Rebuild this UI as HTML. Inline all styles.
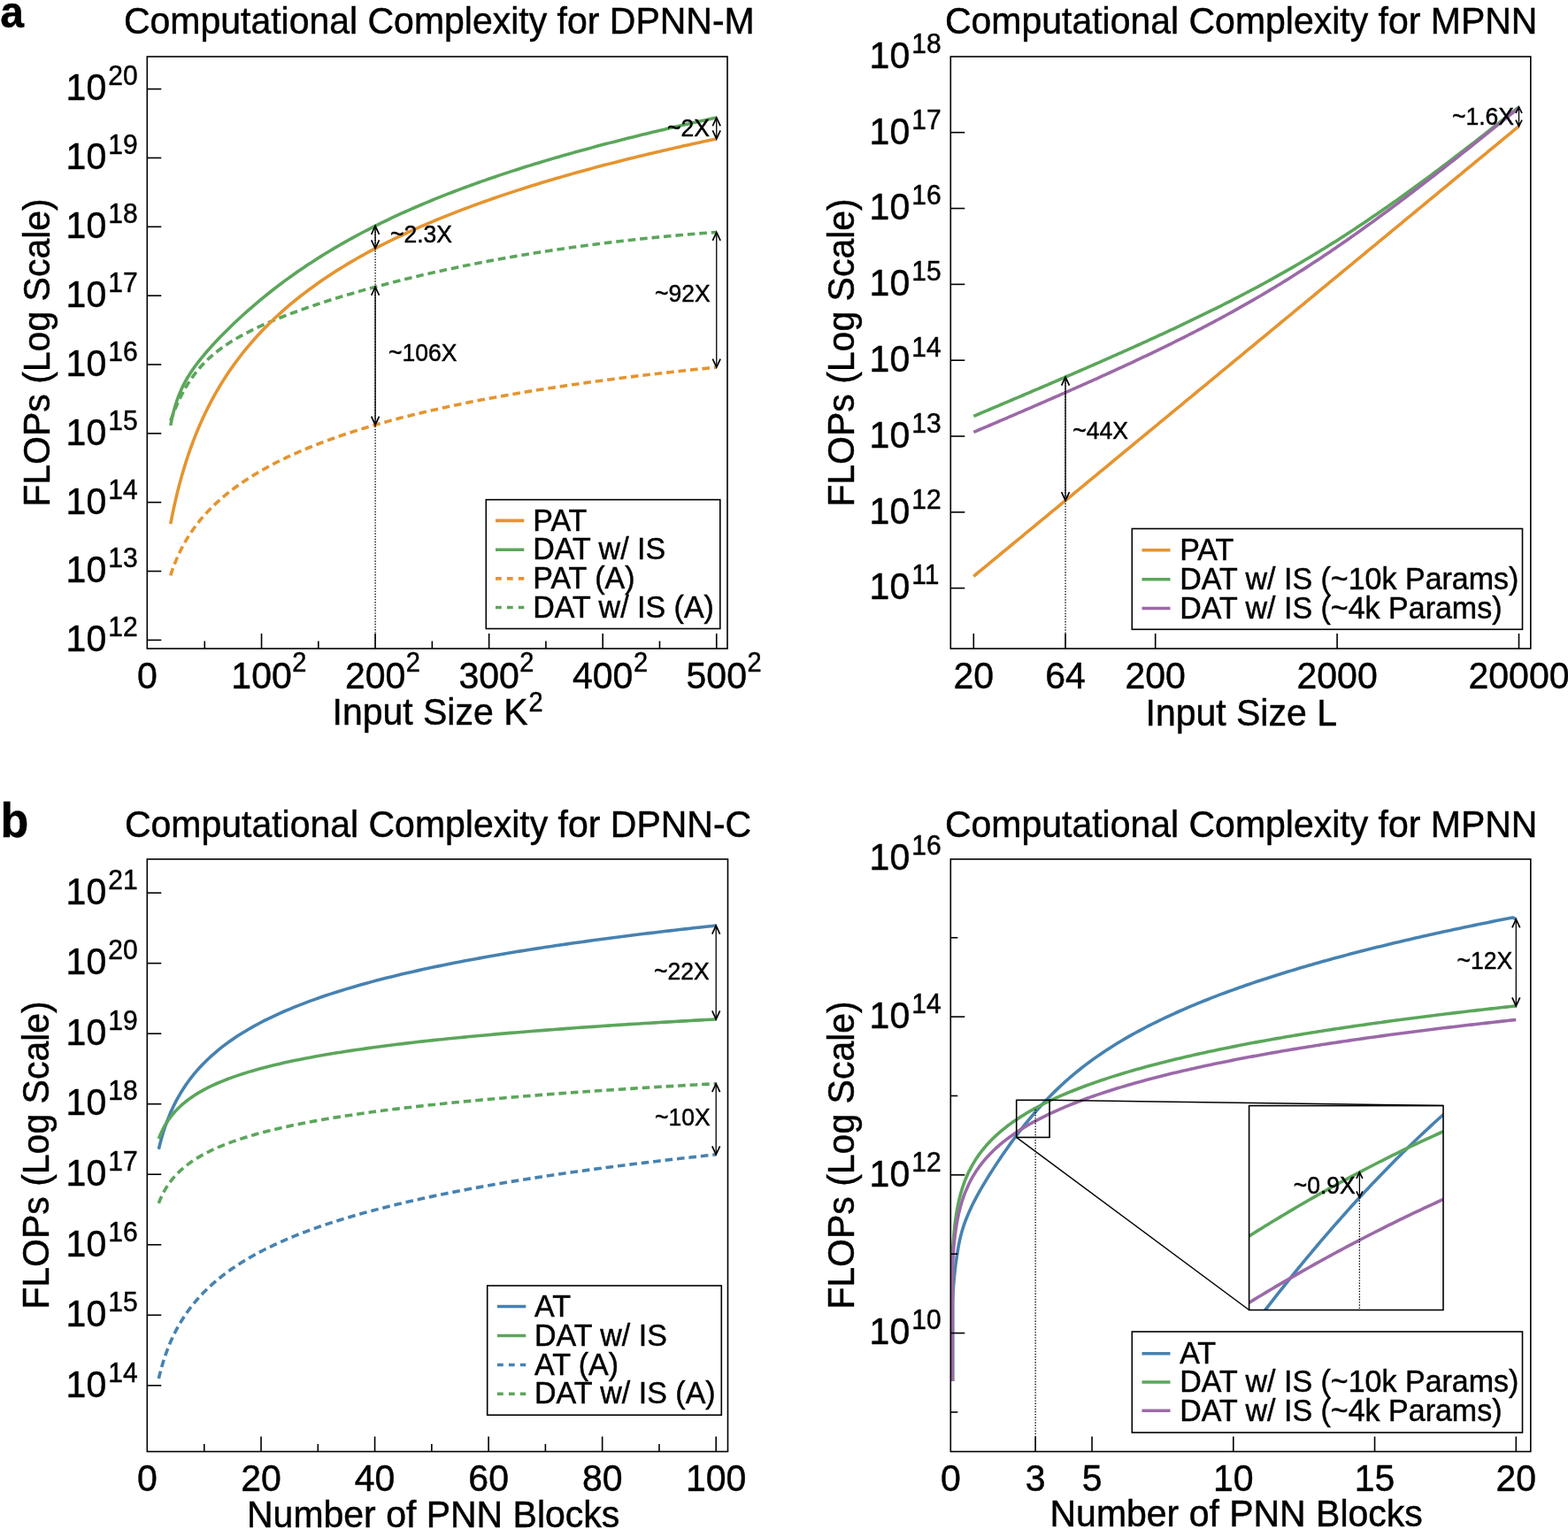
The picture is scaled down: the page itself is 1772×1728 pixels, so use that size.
<!DOCTYPE html>
<html><head><meta charset="utf-8"><title>Computational Complexity</title>
<style>html,body{margin:0;padding:0;background:#fff;}svg{display:block;}</style></head>
<body><svg width="1772" height="1728" viewBox="0 0 1772 1728" font-family='"Liberation Sans", Arial, Helvetica, sans-serif' fill="#000">
<style>text{stroke:#000;stroke-width:0.45px;}</style>
<rect width="1772" height="1728" fill="#fff"/>
<path d="M192.71 650.31 L194 646.42 L195.28 642.76 L196.57 639.3 L197.85 636.01 L199.14 632.88 L200.42 629.89 L201.71 627.04 L202.99 624.3 L204.28 621.68 L205.56 619.15 L206.85 616.72 L208.14 614.37 L209.42 612.11 L210.71 609.92 L211.99 607.79 L213.28 605.74 L214.56 603.74 L215.85 601.8 L217.13 599.91 L218.42 598.07 L219.71 596.29 L220.99 594.54 L222.28 592.84 L223.56 591.18 L224.85 589.56 L226.13 587.97 L227.42 586.42 L228.7 584.91 L229.99 583.42 L231.28 581.97 L232.56 580.54 L233.85 579.14 L235.13 577.77 L236.42 576.42 L237.7 575.1 L238.99 573.8 L240.27 572.53 L241.56 571.28 L242.84 570.04 L244.13 568.83 L245.42 567.64 L249.2 564.24 L252.99 560.98 L256.78 557.87 L260.57 554.87 L264.35 551.99 L268.14 549.22 L271.93 546.55 L275.72 543.96 L279.5 541.46 L283.29 539.04 L287.08 536.7 L290.87 534.42 L294.65 532.21 L298.44 530.06 L302.23 527.97 L306.02 525.93 L309.8 523.95 L313.59 522.02 L317.38 520.13 L321.17 518.29 L324.95 516.49 L328.74 514.74 L332.53 513.02 L336.32 511.34 L340.1 509.69 L343.89 508.08 L347.68 506.51 L351.46 504.96 L355.25 503.45 L359.04 501.97 L362.83 500.51 L366.61 499.08 L370.4 497.68 L374.19 496.3 L377.98 494.95 L381.76 493.62 L385.55 492.32 L389.34 491.04 L393.13 489.78 L396.91 488.54 L400.7 487.32 L404.49 486.12 L408.28 484.94 L412.06 483.78 L415.85 482.63 L419.64 481.51 L423.43 480.4 L427.21 479.31 L431 478.23 L434.79 477.17 L438.58 476.13 L442.36 475.1 L446.15 474.08 L449.94 473.08 L453.73 472.09 L457.51 471.12 L461.3 470.16 L465.09 469.21 L468.88 468.28 L472.66 467.36 L476.45 466.44 L480.24 465.55 L484.03 464.66 L487.81 463.78 L491.6 462.92 L495.39 462.07 L499.18 461.22 L502.96 460.39 L506.75 459.57 L510.54 458.75 L514.33 457.95 L518.11 457.16 L521.9 456.37 L525.69 455.6 L529.48 454.83 L533.26 454.07 L537.05 453.32 L540.84 452.58 L544.63 451.85 L548.41 451.13 L552.2 450.41 L555.99 449.7 L559.78 449 L563.56 448.31 L567.35 447.63 L571.14 446.95 L574.93 446.28 L578.71 445.62 L582.5 444.96 L586.29 444.31 L590.08 443.67 L593.86 443.03 L597.65 442.4 L601.44 441.78 L605.23 441.16 L609.01 440.55 L612.8 439.94 L616.59 439.35 L620.38 438.75 L624.16 438.17 L627.95 437.58 L631.74 437.01 L635.53 436.44 L639.31 435.87 L643.1 435.31 L646.89 434.76 L650.68 434.21 L654.46 433.67 L658.25 433.13 L662.04 432.6 L665.83 432.07 L669.61 431.54 L673.4 431.03 L677.19 430.51 L680.98 430 L684.76 429.5 L688.55 429 L692.34 428.5 L696.13 428.01 L699.91 427.52 L703.7 427.04 L707.49 426.56 L711.28 426.09 L715.06 425.62 L718.85 425.15 L722.64 424.69 L726.43 424.23 L730.21 423.78 L734 423.33 L737.79 422.88 L741.58 422.44 L745.36 422 L749.15 421.57 L752.94 421.13 L756.73 420.71 L760.51 420.28 L764.3 419.86 L768.09 419.44 L771.88 419.03 L775.66 418.62 L779.45 418.21 L783.24 417.81 L787.03 417.41 L790.81 417.01 L794.6 416.62 L798.39 416.23 L802.18 415.84 L805.96 415.45 L809.75 415.07" fill="none" stroke="#E5942F" stroke-width="3.6" stroke-dasharray="8.6 4.9" stroke-linejoin="round"/>
<path d="M192.71 475.49 L194 472.1 L195.28 468.78 L196.57 465.55 L197.85 462.42 L199.14 459.39 L200.42 456.46 L201.71 453.63 L202.99 450.91 L204.28 448.28 L205.56 445.75 L206.85 443.3 L208.14 440.95 L209.42 438.68 L210.71 436.49 L211.99 434.38 L213.28 432.34 L214.56 430.37 L215.85 428.47 L217.13 426.62 L218.42 424.84 L219.71 423.12 L220.99 421.45 L222.28 419.83 L223.56 418.26 L224.85 416.74 L226.13 415.26 L227.42 413.82 L228.7 412.43 L229.99 411.07 L231.28 409.75 L232.56 408.46 L233.85 407.21 L235.13 405.98 L236.42 404.79 L237.7 403.63 L238.99 402.49 L240.27 401.38 L241.56 400.3 L242.84 399.23 L244.13 398.2 L245.42 397.18 L249.2 394.3 L252.99 391.59 L256.78 389.01 L260.57 386.56 L264.35 384.23 L268.14 381.99 L271.93 379.84 L275.72 377.78 L279.5 375.79 L283.29 373.87 L287.08 372.01 L290.87 370.2 L294.65 368.44 L298.44 366.74 L302.23 365.07 L306.02 363.45 L309.8 361.86 L313.59 360.3 L317.38 358.78 L321.17 357.29 L324.95 355.83 L328.74 354.39 L332.53 352.98 L336.32 351.6 L340.1 350.23 L343.89 348.89 L347.68 347.57 L351.46 346.26 L355.25 344.98 L359.04 343.71 L362.83 342.46 L366.61 341.23 L370.4 340.02 L374.19 338.81 L377.98 337.63 L381.76 336.46 L385.55 335.3 L389.34 334.16 L393.13 333.03 L396.91 331.91 L400.7 330.81 L404.49 329.72 L408.28 328.64 L412.06 327.57 L415.85 326.51 L419.64 325.47 L423.43 324.44 L427.21 323.42 L431 322.41 L434.79 321.41 L438.58 320.42 L442.36 319.44 L446.15 318.47 L449.94 317.51 L453.73 316.56 L457.51 315.62 L461.3 314.69 L465.09 313.78 L468.88 312.87 L472.66 311.97 L476.45 311.08 L480.24 310.19 L484.03 309.32 L487.81 308.46 L491.6 307.6 L495.39 306.76 L499.18 305.92 L502.96 305.1 L506.75 304.28 L510.54 303.47 L514.33 302.66 L518.11 301.87 L521.9 301.09 L525.69 300.31 L529.48 299.54 L533.26 298.78 L537.05 298.03 L540.84 297.29 L544.63 296.55 L548.41 295.82 L552.2 295.1 L555.99 294.39 L559.78 293.69 L563.56 292.99 L567.35 292.3 L571.14 291.62 L574.93 290.95 L578.71 290.29 L582.5 289.63 L586.29 288.98 L590.08 288.33 L593.86 287.7 L597.65 287.07 L601.44 286.45 L605.23 285.84 L609.01 285.23 L612.8 284.63 L616.59 284.04 L620.38 283.45 L624.16 282.88 L627.95 282.3 L631.74 281.74 L635.53 281.18 L639.31 280.63 L643.1 280.09 L646.89 279.55 L650.68 279.02 L654.46 278.5 L658.25 277.98 L662.04 277.48 L665.83 276.97 L669.61 276.48 L673.4 275.99 L677.19 275.5 L680.98 275.03 L684.76 274.55 L688.55 274.09 L692.34 273.63 L696.13 273.18 L699.91 272.74 L703.7 272.3 L707.49 271.87 L711.28 271.44 L715.06 271.02 L718.85 270.6 L722.64 270.2 L726.43 269.79 L730.21 269.4 L734 269.01 L737.79 268.62 L741.58 268.25 L745.36 267.87 L749.15 267.51 L752.94 267.15 L756.73 266.79 L760.51 266.44 L764.3 266.1 L768.09 265.76 L771.88 265.43 L775.66 265.11 L779.45 264.78 L783.24 264.47 L787.03 264.16 L790.81 263.86 L794.6 263.56 L798.39 263.27 L802.18 262.98 L805.96 262.7 L809.75 262.42" fill="none" stroke="#5BA65B" stroke-width="3.6" stroke-dasharray="8.6 4.9" stroke-linejoin="round"/>
<path d="M192.71 592.18 L194 585.58 L195.28 579.29 L196.57 573.28 L197.85 567.52 L199.14 562 L200.42 556.7 L201.71 551.59 L202.99 546.67 L204.28 541.93 L205.56 537.34 L206.85 532.91 L208.14 528.62 L209.42 524.45 L210.71 520.42 L211.99 516.5 L213.28 512.69 L214.56 508.98 L215.85 505.38 L217.13 501.86 L218.42 498.44 L219.71 495.1 L220.99 491.84 L222.28 488.66 L223.56 485.55 L224.85 482.51 L226.13 479.54 L227.42 476.63 L228.7 473.78 L229.99 470.99 L231.28 468.26 L232.56 465.58 L233.85 462.96 L235.13 460.38 L236.42 457.85 L237.7 455.37 L238.99 452.93 L240.27 450.54 L241.56 448.19 L242.84 445.88 L244.13 443.6 L245.42 441.37 L249.2 434.99 L252.99 428.9 L256.78 423.07 L260.57 417.48 L264.35 412.11 L268.14 406.95 L271.93 401.98 L275.72 397.18 L279.5 392.55 L283.29 388.07 L287.08 383.74 L290.87 379.54 L294.65 375.47 L298.44 371.51 L302.23 367.67 L306.02 363.94 L309.8 360.3 L313.59 356.76 L317.38 353.31 L321.17 349.95 L324.95 346.66 L328.74 343.46 L332.53 340.33 L336.32 337.27 L340.1 334.28 L343.89 331.35 L347.68 328.48 L351.46 325.68 L355.25 322.93 L359.04 320.24 L362.83 317.6 L366.61 315 L370.4 312.46 L374.19 309.97 L377.98 307.52 L381.76 305.11 L385.55 302.75 L389.34 300.42 L393.13 298.14 L396.91 295.89 L400.7 293.68 L404.49 291.51 L408.28 289.37 L412.06 287.26 L415.85 285.19 L419.64 283.15 L423.43 281.13 L427.21 279.15 L431 277.2 L434.79 275.27 L438.58 273.37 L442.36 271.5 L446.15 269.65 L449.94 267.83 L453.73 266.03 L457.51 264.25 L461.3 262.5 L465.09 260.77 L468.88 259.07 L472.66 257.38 L476.45 255.71 L480.24 254.07 L484.03 252.44 L487.81 250.84 L491.6 249.25 L495.39 247.68 L499.18 246.13 L502.96 244.6 L506.75 243.08 L510.54 241.58 L514.33 240.1 L518.11 238.63 L521.9 237.18 L525.69 235.75 L529.48 234.32 L533.26 232.92 L537.05 231.53 L540.84 230.15 L544.63 228.79 L548.41 227.44 L552.2 226.1 L555.99 224.78 L559.78 223.47 L563.56 222.17 L567.35 220.88 L571.14 219.61 L574.93 218.35 L578.71 217.1 L582.5 215.86 L586.29 214.63 L590.08 213.42 L593.86 212.21 L597.65 211.02 L601.44 209.83 L605.23 208.66 L609.01 207.5 L612.8 206.34 L616.59 205.2 L620.38 204.06 L624.16 202.94 L627.95 201.82 L631.74 200.72 L635.53 199.62 L639.31 198.53 L643.1 197.45 L646.89 196.38 L650.68 195.31 L654.46 194.26 L658.25 193.21 L662.04 192.17 L665.83 191.14 L669.61 190.12 L673.4 189.11 L677.19 188.1 L680.98 187.1 L684.76 186.1 L688.55 185.12 L692.34 184.14 L696.13 183.17 L699.91 182.2 L703.7 181.25 L707.49 180.3 L711.28 179.35 L715.06 178.41 L718.85 177.48 L722.64 176.56 L726.43 175.64 L730.21 174.73 L734 173.82 L737.79 172.92 L741.58 172.02 L745.36 171.14 L749.15 170.25 L752.94 169.38 L756.73 168.5 L760.51 167.64 L764.3 166.78 L768.09 165.92 L771.88 165.07 L775.66 164.23 L779.45 163.39 L783.24 162.56 L787.03 161.73 L790.81 160.9 L794.6 160.09 L798.39 159.27 L802.18 158.46 L805.96 157.66 L809.75 156.86" fill="none" stroke="#E5942F" stroke-width="3.6" stroke-linejoin="round"/>
<path d="M192.71 480.89 L194 474.57 L195.28 468.95 L196.57 463.91 L197.85 459.36 L199.14 455.21 L200.42 451.42 L201.71 447.93 L202.99 444.68 L204.28 441.66 L205.56 438.82 L206.85 436.15 L208.14 433.62 L209.42 431.22 L210.71 428.92 L211.99 426.72 L213.28 424.6 L214.56 422.56 L215.85 420.59 L217.13 418.68 L218.42 416.82 L219.71 415 L220.99 413.24 L222.28 411.51 L223.56 409.81 L224.85 408.15 L226.13 406.52 L227.42 404.92 L228.7 403.34 L229.99 401.79 L231.28 400.26 L232.56 398.75 L233.85 397.25 L235.13 395.78 L236.42 394.32 L237.7 392.88 L238.99 391.45 L240.27 390.03 L241.56 388.63 L242.84 387.24 L244.13 385.87 L245.42 384.5 L249.2 380.55 L252.99 376.68 L256.78 372.9 L260.57 369.19 L264.35 365.55 L268.14 361.98 L271.93 358.47 L275.72 355.03 L279.5 351.64 L283.29 348.32 L287.08 345.04 L290.87 341.83 L294.65 338.67 L298.44 335.56 L302.23 332.5 L306.02 329.49 L309.8 326.53 L313.59 323.62 L317.38 320.75 L321.17 317.93 L324.95 315.15 L328.74 312.42 L332.53 309.73 L336.32 307.08 L340.1 304.47 L343.89 301.9 L347.68 299.37 L351.46 296.88 L355.25 294.42 L359.04 292 L362.83 289.62 L366.61 287.27 L370.4 284.95 L374.19 282.67 L377.98 280.42 L381.76 278.2 L385.55 276.01 L389.34 273.85 L393.13 271.72 L396.91 269.62 L400.7 267.55 L404.49 265.51 L408.28 263.49 L412.06 261.5 L415.85 259.54 L419.64 257.6 L423.43 255.69 L427.21 253.8 L431 251.93 L434.79 250.09 L438.58 248.27 L442.36 246.48 L446.15 244.7 L449.94 242.95 L453.73 241.21 L457.51 239.5 L461.3 237.81 L465.09 236.14 L468.88 234.48 L472.66 232.85 L476.45 231.23 L480.24 229.63 L484.03 228.05 L487.81 226.49 L491.6 224.95 L495.39 223.42 L499.18 221.9 L502.96 220.41 L506.75 218.93 L510.54 217.46 L514.33 216.01 L518.11 214.57 L521.9 213.15 L525.69 211.75 L529.48 210.35 L533.26 208.97 L537.05 207.61 L540.84 206.26 L544.63 204.92 L548.41 203.59 L552.2 202.27 L555.99 200.97 L559.78 199.68 L563.56 198.4 L567.35 197.14 L571.14 195.88 L574.93 194.64 L578.71 193.4 L582.5 192.18 L586.29 190.97 L590.08 189.77 L593.86 188.57 L597.65 187.39 L601.44 186.22 L605.23 185.06 L609.01 183.91 L612.8 182.76 L616.59 181.63 L620.38 180.5 L624.16 179.39 L627.95 178.28 L631.74 177.18 L635.53 176.09 L639.31 175.01 L643.1 173.93 L646.89 172.86 L650.68 171.81 L654.46 170.75 L658.25 169.71 L662.04 168.67 L665.83 167.65 L669.61 166.62 L673.4 165.61 L677.19 164.6 L680.98 163.6 L684.76 162.61 L688.55 161.62 L692.34 160.64 L696.13 159.66 L699.91 158.69 L703.7 157.73 L707.49 156.78 L711.28 155.83 L715.06 154.88 L718.85 153.94 L722.64 153.01 L726.43 152.08 L730.21 151.16 L734 150.24 L737.79 149.33 L741.58 148.43 L745.36 147.53 L749.15 146.63 L752.94 145.74 L756.73 144.85 L760.51 143.97 L764.3 143.1 L768.09 142.23 L771.88 141.36 L775.66 140.5 L779.45 139.64 L783.24 138.79 L787.03 137.94 L790.81 137.09 L794.6 136.25 L798.39 135.42 L802.18 134.58 L805.96 133.76 L809.75 132.93" fill="none" stroke="#5BA65B" stroke-width="3.6" stroke-linejoin="round"/>
<rect x="166.3" y="64" width="655.7" height="669" fill="none" stroke="#000" stroke-width="1.6"/>
<line x1="166.3" y1="100.6" x2="182.3" y2="100.6" stroke="#000" stroke-width="1.6"/>
<text transform="matrix(1 0 0 1.05 120.2 113.4)" font-size="41" text-anchor="end">10</text>
<text transform="matrix(1 0 0 1.05 122.2 96.4)" font-size="30">20</text>
<line x1="166.3" y1="178.45" x2="182.3" y2="178.45" stroke="#000" stroke-width="1.6"/>
<text transform="matrix(1 0 0 1.05 120.2 191.25)" font-size="41" text-anchor="end">10</text>
<text transform="matrix(1 0 0 1.05 122.2 174.25)" font-size="30">19</text>
<line x1="166.3" y1="256.3" x2="182.3" y2="256.3" stroke="#000" stroke-width="1.6"/>
<text transform="matrix(1 0 0 1.05 120.2 269.1)" font-size="41" text-anchor="end">10</text>
<text transform="matrix(1 0 0 1.05 122.2 252.1)" font-size="30">18</text>
<line x1="166.3" y1="334.15" x2="182.3" y2="334.15" stroke="#000" stroke-width="1.6"/>
<text transform="matrix(1 0 0 1.05 120.2 346.95)" font-size="41" text-anchor="end">10</text>
<text transform="matrix(1 0 0 1.05 122.2 329.95)" font-size="30">17</text>
<line x1="166.3" y1="412" x2="182.3" y2="412" stroke="#000" stroke-width="1.6"/>
<text transform="matrix(1 0 0 1.05 120.2 424.8)" font-size="41" text-anchor="end">10</text>
<text transform="matrix(1 0 0 1.05 122.2 407.8)" font-size="30">16</text>
<line x1="166.3" y1="489.85" x2="182.3" y2="489.85" stroke="#000" stroke-width="1.6"/>
<text transform="matrix(1 0 0 1.05 120.2 502.65)" font-size="41" text-anchor="end">10</text>
<text transform="matrix(1 0 0 1.05 122.2 485.65)" font-size="30">15</text>
<line x1="166.3" y1="567.7" x2="182.3" y2="567.7" stroke="#000" stroke-width="1.6"/>
<text transform="matrix(1 0 0 1.05 120.2 580.5)" font-size="41" text-anchor="end">10</text>
<text transform="matrix(1 0 0 1.05 122.2 563.5)" font-size="30">14</text>
<line x1="166.3" y1="645.55" x2="182.3" y2="645.55" stroke="#000" stroke-width="1.6"/>
<text transform="matrix(1 0 0 1.05 120.2 658.35)" font-size="41" text-anchor="end">10</text>
<text transform="matrix(1 0 0 1.05 122.2 641.35)" font-size="30">13</text>
<line x1="166.3" y1="723.4" x2="182.3" y2="723.4" stroke="#000" stroke-width="1.6"/>
<text transform="matrix(1 0 0 1.05 120.2 736.2)" font-size="41" text-anchor="end">10</text>
<text transform="matrix(1 0 0 1.05 122.2 719.2)" font-size="30">12</text>
<line x1="231.28" y1="733" x2="231.28" y2="724.5" stroke="#000" stroke-width="1.6"/>
<line x1="359.83" y1="733" x2="359.83" y2="724.5" stroke="#000" stroke-width="1.6"/>
<line x1="488.38" y1="733" x2="488.38" y2="724.5" stroke="#000" stroke-width="1.6"/>
<line x1="616.92" y1="733" x2="616.92" y2="724.5" stroke="#000" stroke-width="1.6"/>
<line x1="745.48" y1="733" x2="745.48" y2="724.5" stroke="#000" stroke-width="1.6"/>
<line x1="295.55" y1="733" x2="295.55" y2="716" stroke="#000" stroke-width="1.6"/>
<line x1="424.1" y1="733" x2="424.1" y2="716" stroke="#000" stroke-width="1.6"/>
<line x1="552.65" y1="733" x2="552.65" y2="716" stroke="#000" stroke-width="1.6"/>
<line x1="681.2" y1="733" x2="681.2" y2="716" stroke="#000" stroke-width="1.6"/>
<line x1="809.75" y1="733" x2="809.75" y2="716" stroke="#000" stroke-width="1.6"/>
<text transform="matrix(1 0 0 1.05 166.3 778.4)" font-size="41" text-anchor="middle">0</text>
<text transform="matrix(1 0 0 1.05 295.55 778.4)" font-size="41" text-anchor="middle">100</text>
<text transform="matrix(1 0 0 1.05 330.25 759.4)" font-size="29">2</text>
<text transform="matrix(1 0 0 1.05 424.1 778.4)" font-size="41" text-anchor="middle">200</text>
<text transform="matrix(1 0 0 1.05 458.8 759.4)" font-size="29">2</text>
<text transform="matrix(1 0 0 1.05 552.65 778.4)" font-size="41" text-anchor="middle">300</text>
<text transform="matrix(1 0 0 1.05 587.35 759.4)" font-size="29">2</text>
<text transform="matrix(1 0 0 1.05 681.2 778.4)" font-size="41" text-anchor="middle">400</text>
<text transform="matrix(1 0 0 1.05 715.9 759.4)" font-size="29">2</text>
<text transform="matrix(1 0 0 1.05 809.75 778.4)" font-size="41" text-anchor="middle">500</text>
<text transform="matrix(1 0 0 1.05 844.45 759.4)" font-size="29">2</text>
<line x1="424.1" y1="255.35" x2="424.1" y2="733" stroke="#000" stroke-width="1.3" stroke-dasharray="1.4 1.7"/>
<line x1="424.1" y1="255.35" x2="424.1" y2="280.78" stroke="#000" stroke-width="1.3"/>
<path d="M419.7 264.85 L424.1 255.35 L428.5 264.85" fill="none" stroke="#000" stroke-width="1.7" stroke-linejoin="miter"/>
<path d="M419.7 271.28 L424.1 280.78 L428.5 271.28" fill="none" stroke="#000" stroke-width="1.7" stroke-linejoin="miter"/>
<line x1="424.1" y1="324.26" x2="424.1" y2="480.2" stroke="#000" stroke-width="1.3"/>
<path d="M419.7 333.76 L424.1 324.26 L428.5 333.76" fill="none" stroke="#000" stroke-width="1.7" stroke-linejoin="miter"/>
<path d="M419.7 470.7 L424.1 480.2 L428.5 470.7" fill="none" stroke="#000" stroke-width="1.7" stroke-linejoin="miter"/>
<line x1="809.75" y1="132.93" x2="809.75" y2="156.86" stroke="#000" stroke-width="1.3"/>
<path d="M805.35 142.43 L809.75 132.93 L814.15 142.43" fill="none" stroke="#000" stroke-width="1.7" stroke-linejoin="miter"/>
<path d="M805.35 147.36 L809.75 156.86 L814.15 147.36" fill="none" stroke="#000" stroke-width="1.7" stroke-linejoin="miter"/>
<line x1="809.75" y1="262.42" x2="809.75" y2="415.07" stroke="#000" stroke-width="1.3"/>
<path d="M805.35 271.92 L809.75 262.42 L814.15 271.92" fill="none" stroke="#000" stroke-width="1.7" stroke-linejoin="miter"/>
<path d="M805.35 405.57 L809.75 415.07 L814.15 405.57" fill="none" stroke="#000" stroke-width="1.7" stroke-linejoin="miter"/>
<text transform="matrix(1 0 0 1.05 441 273.5)" font-size="26.5">~2.3X</text>
<text transform="matrix(1 0 0 1.05 439 408.2)" font-size="26.5">~106X</text>
<text transform="matrix(1 0 0 1.05 754 153.8)" font-size="26.5">~2X</text>
<text transform="matrix(1 0 0 1.05 740 341.3)" font-size="26.5">~92X</text>
<rect x="549.3" y="564.7" width="264.5" height="145.8" fill="none" stroke="#000" stroke-width="1.6"/>
<path d="M560 588.4 L592.3 588.4" fill="none" stroke="#E5942F" stroke-width="3.6" stroke-linejoin="round"/>
<text transform="matrix(1 0 0 1.05 602.3 599.6)" font-size="34">PAT</text>
<path d="M560 621.2 L592.3 621.2" fill="none" stroke="#5BA65B" stroke-width="3.6" stroke-linejoin="round"/>
<text transform="matrix(1 0 0 1.05 602.3 632.4)" font-size="34">DAT w/ IS</text>
<path d="M560 653.9 L592.3 653.9" fill="none" stroke="#E5942F" stroke-width="3.6" stroke-dasharray="6.8 6.1" stroke-linejoin="round"/>
<text transform="matrix(1 0 0 1.05 602.3 665.1)" font-size="34">PAT (A)</text>
<path d="M560 686.5 L592.3 686.5" fill="none" stroke="#5BA65B" stroke-width="3.6" stroke-dasharray="6.8 6.1" stroke-linejoin="round"/>
<text transform="matrix(1 0 0 1.05 602.3 697.7)" font-size="34">DAT w/ IS (A)</text>
<text transform="matrix(1 0 0 1.05 139.9 38.1)" font-size="41">Computational Complexity for DPNN-M</text>
<text transform="matrix(1 0 0 1.05 375.5 819)" font-size="41">Input Size K</text>
<text transform="matrix(1 0 0 1.05 597.58 803.5)" font-size="29">2</text>
<path d="M1100.3 651.3 L1103.4 648.74 L1106.49 646.19 L1109.59 643.63 L1112.69 641.07 L1115.78 638.52 L1118.88 635.96 L1121.98 633.41 L1125.07 630.85 L1128.17 628.29 L1131.26 625.74 L1134.36 623.18 L1137.46 620.62 L1140.55 618.07 L1143.65 615.51 L1146.75 612.96 L1149.84 610.4 L1152.94 607.84 L1156.04 605.29 L1159.13 602.73 L1162.23 600.17 L1165.33 597.62 L1168.42 595.06 L1171.52 592.51 L1174.62 589.95 L1177.71 587.39 L1180.81 584.84 L1183.91 582.28 L1187 579.72 L1190.1 577.17 L1193.19 574.61 L1196.29 572.06 L1199.39 569.5 L1202.48 566.94 L1205.58 564.39 L1208.68 561.83 L1211.77 559.27 L1214.87 556.72 L1217.97 554.16 L1221.06 551.61 L1224.16 549.05 L1227.26 546.49 L1230.35 543.94 L1233.45 541.38 L1236.55 538.82 L1239.64 536.27 L1242.74 533.71 L1245.83 531.15 L1248.93 528.6 L1252.03 526.04 L1255.12 523.49 L1258.22 520.93 L1261.32 518.37 L1264.41 515.82 L1267.51 513.26 L1270.61 510.7 L1273.7 508.15 L1276.8 505.59 L1279.9 503.04 L1282.99 500.48 L1286.09 497.92 L1289.19 495.37 L1292.28 492.81 L1295.38 490.25 L1298.47 487.7 L1301.57 485.14 L1304.67 482.59 L1307.76 480.03 L1310.86 477.47 L1313.96 474.92 L1317.05 472.36 L1320.15 469.8 L1323.25 467.25 L1326.34 464.69 L1329.44 462.14 L1332.54 459.58 L1335.63 457.02 L1338.73 454.47 L1341.83 451.91 L1344.92 449.35 L1348.02 446.8 L1351.12 444.24 L1354.21 441.68 L1357.31 439.13 L1360.4 436.57 L1363.5 434.02 L1366.6 431.46 L1369.69 428.9 L1372.79 426.35 L1375.89 423.79 L1378.98 421.23 L1382.08 418.68 L1385.18 416.12 L1388.27 413.57 L1391.37 411.01 L1394.47 408.45 L1397.56 405.9 L1400.66 403.34 L1403.76 400.78 L1406.85 398.23 L1409.95 395.67 L1413.04 393.12 L1416.14 390.56 L1419.24 388 L1422.33 385.45 L1425.43 382.89 L1428.53 380.33 L1431.62 377.78 L1434.72 375.22 L1437.82 372.67 L1440.91 370.11 L1444.01 367.55 L1447.11 365 L1450.2 362.44 L1453.3 359.88 L1456.4 357.33 L1459.49 354.77 L1462.59 352.22 L1465.68 349.66 L1468.78 347.1 L1471.88 344.55 L1474.97 341.99 L1478.07 339.43 L1481.17 336.88 L1484.26 334.32 L1487.36 331.76 L1490.46 329.21 L1493.55 326.65 L1496.65 324.1 L1499.75 321.54 L1502.84 318.98 L1505.94 316.43 L1509.04 313.87 L1512.13 311.31 L1515.23 308.76 L1518.33 306.2 L1521.42 303.65 L1524.52 301.09 L1527.61 298.53 L1530.71 295.98 L1533.81 293.42 L1536.9 290.86 L1540 288.31 L1543.1 285.75 L1546.19 283.2 L1549.29 280.64 L1552.39 278.08 L1555.48 275.53 L1558.58 272.97 L1561.68 270.41 L1564.77 267.86 L1567.87 265.3 L1570.97 262.75 L1574.06 260.19 L1577.16 257.63 L1580.25 255.08 L1583.35 252.52 L1586.45 249.96 L1589.54 247.41 L1592.64 244.85 L1595.74 242.29 L1598.83 239.74 L1601.93 237.18 L1605.03 234.63 L1608.12 232.07 L1611.22 229.51 L1614.32 226.96 L1617.41 224.4 L1620.51 221.84 L1623.61 219.29 L1626.7 216.73 L1629.8 214.18 L1632.89 211.62 L1635.99 209.06 L1639.09 206.51 L1642.18 203.95 L1645.28 201.39 L1648.38 198.84 L1651.47 196.28 L1654.57 193.73 L1657.67 191.17 L1660.76 188.61 L1663.86 186.06 L1666.96 183.5 L1670.05 180.94 L1673.15 178.39 L1676.25 175.83 L1679.34 173.28 L1682.44 170.72 L1685.54 168.16 L1688.63 165.61 L1691.73 163.05 L1694.82 160.49 L1697.92 157.94 L1701.02 155.38 L1704.11 152.83 L1707.21 150.27 L1710.31 147.71 L1713.4 145.16 L1716.5 142.6" fill="none" stroke="#E5942F" stroke-width="3.6" stroke-linejoin="round"/>
<path d="M1100.3 470.37 L1103.4 469.06 L1106.49 467.75 L1109.59 466.44 L1112.69 465.13 L1115.78 463.82 L1118.88 462.51 L1121.98 461.2 L1125.07 459.89 L1128.17 458.57 L1131.26 457.26 L1134.36 455.95 L1137.46 454.63 L1140.55 453.32 L1143.65 452 L1146.75 450.68 L1149.84 449.37 L1152.94 448.05 L1156.04 446.73 L1159.13 445.41 L1162.23 444.09 L1165.33 442.76 L1168.42 441.44 L1171.52 440.12 L1174.62 438.79 L1177.71 437.47 L1180.81 436.14 L1183.91 434.81 L1187 433.48 L1190.1 432.15 L1193.19 430.82 L1196.29 429.48 L1199.39 428.15 L1202.48 426.81 L1205.58 425.48 L1208.68 424.14 L1211.77 422.8 L1214.87 421.45 L1217.97 420.11 L1221.06 418.76 L1224.16 417.42 L1227.26 416.07 L1230.35 414.72 L1233.45 413.36 L1236.55 412.01 L1239.64 410.65 L1242.74 409.29 L1245.83 407.93 L1248.93 406.57 L1252.03 405.2 L1255.12 403.83 L1258.22 402.46 L1261.32 401.09 L1264.41 399.72 L1267.51 398.34 L1270.61 396.96 L1273.7 395.57 L1276.8 394.18 L1279.9 392.79 L1282.99 391.4 L1286.09 390 L1289.19 388.6 L1292.28 387.2 L1295.38 385.79 L1298.47 384.38 L1301.57 382.97 L1304.67 381.55 L1307.76 380.13 L1310.86 378.7 L1313.96 377.27 L1317.05 375.84 L1320.15 374.4 L1323.25 372.96 L1326.34 371.51 L1329.44 370.05 L1332.54 368.6 L1335.63 367.13 L1338.73 365.67 L1341.83 364.19 L1344.92 362.71 L1348.02 361.23 L1351.12 359.74 L1354.21 358.24 L1357.31 356.74 L1360.4 355.23 L1363.5 353.72 L1366.6 352.2 L1369.69 350.67 L1372.79 349.14 L1375.89 347.6 L1378.98 346.05 L1382.08 344.49 L1385.18 342.93 L1388.27 341.36 L1391.37 339.78 L1394.47 338.2 L1397.56 336.61 L1400.66 335.01 L1403.76 333.4 L1406.85 331.78 L1409.95 330.15 L1413.04 328.52 L1416.14 326.87 L1419.24 325.22 L1422.33 323.56 L1425.43 321.89 L1428.53 320.21 L1431.62 318.52 L1434.72 316.82 L1437.82 315.11 L1440.91 313.39 L1444.01 311.66 L1447.11 309.93 L1450.2 308.18 L1453.3 306.42 L1456.4 304.65 L1459.49 302.87 L1462.59 301.08 L1465.68 299.28 L1468.78 297.46 L1471.88 295.64 L1474.97 293.81 L1478.07 291.96 L1481.17 290.11 L1484.26 288.24 L1487.36 286.36 L1490.46 284.47 L1493.55 282.57 L1496.65 280.66 L1499.75 278.74 L1502.84 276.8 L1505.94 274.86 L1509.04 272.9 L1512.13 270.94 L1515.23 268.96 L1518.33 266.97 L1521.42 264.97 L1524.52 262.95 L1527.61 260.93 L1530.71 258.9 L1533.81 256.85 L1536.9 254.79 L1540 252.73 L1543.1 250.65 L1546.19 248.56 L1549.29 246.46 L1552.39 244.35 L1555.48 242.23 L1558.58 240.1 L1561.68 237.96 L1564.77 235.81 L1567.87 233.65 L1570.97 231.48 L1574.06 229.3 L1577.16 227.11 L1580.25 224.91 L1583.35 222.7 L1586.45 220.48 L1589.54 218.26 L1592.64 216.02 L1595.74 213.78 L1598.83 211.52 L1601.93 209.26 L1605.03 206.99 L1608.12 204.71 L1611.22 202.42 L1614.32 200.13 L1617.41 197.83 L1620.51 195.52 L1623.61 193.2 L1626.7 190.87 L1629.8 188.54 L1632.89 186.2 L1635.99 183.86 L1639.09 181.5 L1642.18 179.14 L1645.28 176.78 L1648.38 174.41 L1651.47 172.03 L1654.57 169.64 L1657.67 167.25 L1660.76 164.86 L1663.86 162.46 L1666.96 160.05 L1670.05 157.64 L1673.15 155.22 L1676.25 152.8 L1679.34 150.37 L1682.44 147.94 L1685.54 145.5 L1688.63 143.06 L1691.73 140.61 L1694.82 138.16 L1697.92 135.71 L1701.02 133.25 L1704.11 130.78 L1707.21 128.32 L1710.31 125.85 L1713.4 123.37 L1716.5 120.9" fill="none" stroke="#5BA65B" stroke-width="3.6" stroke-linejoin="round"/>
<path d="M1100.3 488.4 L1103.4 487.09 L1106.49 485.77 L1109.59 484.45 L1112.69 483.13 L1115.78 481.81 L1118.88 480.49 L1121.98 479.17 L1125.07 477.84 L1128.17 476.52 L1131.26 475.19 L1134.36 473.87 L1137.46 472.54 L1140.55 471.21 L1143.65 469.88 L1146.75 468.55 L1149.84 467.22 L1152.94 465.88 L1156.04 464.55 L1159.13 463.21 L1162.23 461.87 L1165.33 460.53 L1168.42 459.19 L1171.52 457.85 L1174.62 456.5 L1177.71 455.16 L1180.81 453.81 L1183.91 452.46 L1187 451.11 L1190.1 449.75 L1193.19 448.4 L1196.29 447.04 L1199.39 445.68 L1202.48 444.32 L1205.58 442.96 L1208.68 441.59 L1211.77 440.22 L1214.87 438.85 L1217.97 437.47 L1221.06 436.1 L1224.16 434.72 L1227.26 433.34 L1230.35 431.95 L1233.45 430.56 L1236.55 429.17 L1239.64 427.78 L1242.74 426.38 L1245.83 424.98 L1248.93 423.57 L1252.03 422.16 L1255.12 420.75 L1258.22 419.34 L1261.32 417.92 L1264.41 416.49 L1267.51 415.07 L1270.61 413.63 L1273.7 412.2 L1276.8 410.76 L1279.9 409.31 L1282.99 407.86 L1286.09 406.41 L1289.19 404.95 L1292.28 403.48 L1295.38 402.01 L1298.47 400.54 L1301.57 399.06 L1304.67 397.57 L1307.76 396.08 L1310.86 394.58 L1313.96 393.08 L1317.05 391.57 L1320.15 390.05 L1323.25 388.53 L1326.34 387 L1329.44 385.46 L1332.54 383.92 L1335.63 382.37 L1338.73 380.81 L1341.83 379.25 L1344.92 377.67 L1348.02 376.09 L1351.12 374.51 L1354.21 372.91 L1357.31 371.31 L1360.4 369.69 L1363.5 368.07 L1366.6 366.44 L1369.69 364.81 L1372.79 363.16 L1375.89 361.5 L1378.98 359.84 L1382.08 358.16 L1385.18 356.48 L1388.27 354.79 L1391.37 353.08 L1394.47 351.37 L1397.56 349.65 L1400.66 347.92 L1403.76 346.18 L1406.85 344.42 L1409.95 342.66 L1413.04 340.89 L1416.14 339.1 L1419.24 337.31 L1422.33 335.5 L1425.43 333.69 L1428.53 331.86 L1431.62 330.02 L1434.72 328.17 L1437.82 326.31 L1440.91 324.44 L1444.01 322.56 L1447.11 320.67 L1450.2 318.76 L1453.3 316.85 L1456.4 314.92 L1459.49 312.98 L1462.59 311.03 L1465.68 309.07 L1468.78 307.1 L1471.88 305.12 L1474.97 303.12 L1478.07 301.12 L1481.17 299.1 L1484.26 297.08 L1487.36 295.04 L1490.46 292.99 L1493.55 290.93 L1496.65 288.86 L1499.75 286.78 L1502.84 284.68 L1505.94 282.58 L1509.04 280.47 L1512.13 278.34 L1515.23 276.21 L1518.33 274.07 L1521.42 271.91 L1524.52 269.75 L1527.61 267.57 L1530.71 265.39 L1533.81 263.2 L1536.9 260.99 L1540 258.78 L1543.1 256.56 L1546.19 254.33 L1549.29 252.09 L1552.39 249.84 L1555.48 247.59 L1558.58 245.32 L1561.68 243.05 L1564.77 240.77 L1567.87 238.48 L1570.97 236.18 L1574.06 233.87 L1577.16 231.56 L1580.25 229.24 L1583.35 226.91 L1586.45 224.58 L1589.54 222.24 L1592.64 219.89 L1595.74 217.53 L1598.83 215.17 L1601.93 212.8 L1605.03 210.43 L1608.12 208.05 L1611.22 205.66 L1614.32 203.27 L1617.41 200.87 L1620.51 198.47 L1623.61 196.06 L1626.7 193.64 L1629.8 191.22 L1632.89 188.8 L1635.99 186.37 L1639.09 183.94 L1642.18 181.5 L1645.28 179.05 L1648.38 176.61 L1651.47 174.15 L1654.57 171.7 L1657.67 169.24 L1660.76 166.77 L1663.86 164.31 L1666.96 161.83 L1670.05 159.36 L1673.15 156.88 L1676.25 154.4 L1679.34 151.91 L1682.44 149.42 L1685.54 146.93 L1688.63 144.44 L1691.73 141.94 L1694.82 139.44 L1697.92 136.93 L1701.02 134.43 L1704.11 131.92 L1707.21 129.41 L1710.31 126.89 L1713.4 124.38 L1716.5 121.86" fill="none" stroke="#9B69A8" stroke-width="3.6" stroke-linejoin="round"/>
<rect x="1074.3" y="64" width="655.5" height="669" fill="none" stroke="#000" stroke-width="1.6"/>
<line x1="1074.3" y1="149.7" x2="1090.3" y2="149.7" stroke="#000" stroke-width="1.6"/>
<text transform="matrix(1 0 0 1.05 1028.2 162.5)" font-size="41" text-anchor="end">10</text>
<text transform="matrix(1 0 0 1.05 1030.2 145.5)" font-size="30">17</text>
<line x1="1074.3" y1="235.53" x2="1090.3" y2="235.53" stroke="#000" stroke-width="1.6"/>
<text transform="matrix(1 0 0 1.05 1028.2 248.33)" font-size="41" text-anchor="end">10</text>
<text transform="matrix(1 0 0 1.05 1030.2 231.33)" font-size="30">16</text>
<line x1="1074.3" y1="321.36" x2="1090.3" y2="321.36" stroke="#000" stroke-width="1.6"/>
<text transform="matrix(1 0 0 1.05 1028.2 334.16)" font-size="41" text-anchor="end">10</text>
<text transform="matrix(1 0 0 1.05 1030.2 317.16)" font-size="30">15</text>
<line x1="1074.3" y1="407.19" x2="1090.3" y2="407.19" stroke="#000" stroke-width="1.6"/>
<text transform="matrix(1 0 0 1.05 1028.2 419.99)" font-size="41" text-anchor="end">10</text>
<text transform="matrix(1 0 0 1.05 1030.2 402.99)" font-size="30">14</text>
<line x1="1074.3" y1="493.02" x2="1090.3" y2="493.02" stroke="#000" stroke-width="1.6"/>
<text transform="matrix(1 0 0 1.05 1028.2 505.82)" font-size="41" text-anchor="end">10</text>
<text transform="matrix(1 0 0 1.05 1030.2 488.82)" font-size="30">13</text>
<line x1="1074.3" y1="578.85" x2="1090.3" y2="578.85" stroke="#000" stroke-width="1.6"/>
<text transform="matrix(1 0 0 1.05 1028.2 591.65)" font-size="41" text-anchor="end">10</text>
<text transform="matrix(1 0 0 1.05 1030.2 574.65)" font-size="30">12</text>
<line x1="1074.3" y1="664.68" x2="1090.3" y2="664.68" stroke="#000" stroke-width="1.6"/>
<text transform="matrix(1 0 0 1.05 1028.2 677.48)" font-size="41" text-anchor="end">10</text>
<text transform="matrix(1 0 0 1.05 1030.2 660.48)" font-size="30">11</text>
<text transform="matrix(1 0 0 1.05 1028.2 76.67)" font-size="41" text-anchor="end">10</text>
<text transform="matrix(1 0 0 1.05 1030.2 59.67)" font-size="30">18</text>
<line x1="1100.3" y1="733" x2="1100.3" y2="716" stroke="#000" stroke-width="1.6"/>
<text transform="matrix(1 0 0 1.05 1100.3 777.8)" font-size="41" text-anchor="middle">20</text>
<line x1="1204.06" y1="733" x2="1204.06" y2="716" stroke="#000" stroke-width="1.6"/>
<text transform="matrix(1 0 0 1.05 1204.06 777.8)" font-size="41" text-anchor="middle">64</text>
<line x1="1305.7" y1="733" x2="1305.7" y2="716" stroke="#000" stroke-width="1.6"/>
<text transform="matrix(1 0 0 1.05 1305.7 777.8)" font-size="41" text-anchor="middle">200</text>
<line x1="1511.1" y1="733" x2="1511.1" y2="716" stroke="#000" stroke-width="1.6"/>
<text transform="matrix(1 0 0 1.05 1511.1 777.8)" font-size="41" text-anchor="middle">2000</text>
<line x1="1716.5" y1="733" x2="1716.5" y2="716" stroke="#000" stroke-width="1.6"/>
<text transform="matrix(1 0 0 1.05 1716.5 777.8)" font-size="41" text-anchor="middle">20000</text>
<line x1="1204.06" y1="426.13" x2="1204.06" y2="733" stroke="#000" stroke-width="1.3" stroke-dasharray="1.4 1.7"/>
<line x1="1204.06" y1="426.13" x2="1204.06" y2="565.64" stroke="#000" stroke-width="1.3"/>
<path d="M1199.66 435.63 L1204.06 426.13 L1208.46 435.63" fill="none" stroke="#000" stroke-width="1.7" stroke-linejoin="miter"/>
<path d="M1199.66 556.14 L1204.06 565.64 L1208.46 556.14" fill="none" stroke="#000" stroke-width="1.7" stroke-linejoin="miter"/>
<line x1="1716.5" y1="120.9" x2="1716.5" y2="142.6" stroke="#000" stroke-width="1.3"/>
<path d="M1713 127.9 L1716.5 120.9 L1720 127.9" fill="none" stroke="#000" stroke-width="1.7" stroke-linejoin="miter"/>
<path d="M1713 135.6 L1716.5 142.6 L1720 135.6" fill="none" stroke="#000" stroke-width="1.7" stroke-linejoin="miter"/>
<text transform="matrix(1 0 0 1.05 1212.3 495.8)" font-size="26.5">~44X</text>
<text transform="matrix(1 0 0 1.05 1641 141.1)" font-size="26.5">~1.6X</text>
<rect x="1279.3" y="597.5" width="441.2" height="113.8" fill="none" stroke="#000" stroke-width="1.6"/>
<path d="M1290.5 621.7 L1322.5 621.7" fill="none" stroke="#E5942F" stroke-width="3.6" stroke-linejoin="round"/>
<text transform="matrix(1 0 0 1.05 1333.2 632.9)" font-size="34">PAT</text>
<path d="M1290.5 654.8 L1322.5 654.8" fill="none" stroke="#5BA65B" stroke-width="3.6" stroke-linejoin="round"/>
<text transform="matrix(1 0 0 1.05 1333.2 666)" font-size="34">DAT w/ IS (~10k Params)</text>
<path d="M1290.5 687.5 L1322.5 687.5" fill="none" stroke="#9B69A8" stroke-width="3.6" stroke-linejoin="round"/>
<text transform="matrix(1 0 0 1.05 1333.2 698.7)" font-size="34">DAT w/ IS (~4k Params)</text>
<text transform="matrix(1 0 0 1.05 1067.9 38.1)" font-size="41">Computational Complexity for MPNN</text>
<text transform="matrix(1 0 0 1.05 1294.5 819.5)" font-size="41">Input Size L</text>
<path d="M179.35 1558.01 L180.64 1552.7 L181.92 1547.78 L183.21 1543.21 L184.5 1538.93 L185.78 1534.91 L187.07 1531.12 L188.35 1527.53 L189.64 1524.12 L190.92 1520.87 L192.21 1517.78 L193.49 1514.82 L194.78 1511.98 L196.06 1509.26 L197.35 1506.64 L198.63 1504.12 L199.92 1501.69 L201.21 1499.34 L202.49 1497.07 L203.78 1494.88 L205.06 1492.75 L206.35 1490.68 L207.63 1488.68 L208.92 1486.73 L210.2 1484.84 L211.49 1483 L212.77 1481.21 L214.06 1479.46 L215.35 1477.75 L216.63 1476.09 L217.92 1474.47 L219.2 1472.88 L220.49 1471.33 L221.77 1469.81 L223.06 1468.33 L224.34 1466.88 L225.63 1465.46 L226.91 1464.06 L228.2 1462.7 L229.48 1461.36 L230.77 1460.04 L233.98 1456.87 L239.79 1451.47 L245.6 1446.46 L251.41 1441.79 L257.22 1437.42 L263.03 1433.31 L268.85 1429.43 L274.66 1425.76 L280.47 1422.28 L286.28 1418.96 L292.09 1415.79 L297.9 1412.76 L303.71 1409.86 L309.52 1407.08 L315.33 1404.4 L321.14 1401.83 L326.95 1399.35 L332.76 1396.95 L338.57 1394.63 L344.38 1392.39 L350.19 1390.22 L356 1388.12 L361.81 1386.07 L367.62 1384.09 L373.43 1382.16 L379.24 1380.29 L385.05 1378.46 L390.86 1376.68 L396.67 1374.95 L402.48 1373.25 L408.29 1371.6 L414.1 1369.99 L419.91 1368.41 L425.72 1366.87 L431.53 1365.37 L437.34 1363.89 L443.15 1362.45 L448.96 1361.03 L454.77 1359.65 L460.58 1358.29 L466.39 1356.95 L472.2 1355.65 L478.01 1354.36 L483.83 1353.1 L489.64 1351.87 L495.45 1350.65 L501.26 1349.46 L507.07 1348.28 L512.88 1347.13 L518.69 1345.99 L524.5 1344.88 L530.31 1343.78 L536.12 1342.69 L541.93 1341.63 L547.74 1340.58 L553.55 1339.55 L559.36 1338.53 L565.17 1337.52 L570.98 1336.53 L576.79 1335.56 L582.6 1334.6 L588.41 1333.65 L594.22 1332.71 L600.03 1331.79 L605.84 1330.88 L611.65 1329.98 L617.46 1329.09 L623.27 1328.22 L629.08 1327.35 L634.89 1326.5 L640.7 1325.65 L646.51 1324.82 L652.32 1323.99 L658.13 1323.18 L663.94 1322.38 L669.75 1321.58 L675.56 1320.79 L681.37 1320.02 L687.18 1319.25 L692.99 1318.49 L698.8 1317.73 L704.62 1316.99 L710.43 1316.25 L716.24 1315.53 L722.05 1314.81 L727.86 1314.09 L733.67 1313.39 L739.48 1312.69 L745.29 1311.99 L751.1 1311.31 L756.91 1310.63 L762.72 1309.96 L768.53 1309.29 L774.34 1308.64 L780.15 1307.98 L785.96 1307.34 L791.77 1306.7 L797.58 1306.06 L803.39 1305.43 L809.2 1304.81" fill="none" stroke="#4682B1" stroke-width="3.6" stroke-dasharray="8.6 4.9" stroke-linejoin="round"/>
<path d="M179.35 1359.82 L180.64 1356.53 L181.92 1353.52 L183.21 1350.76 L184.5 1348.2 L185.78 1345.81 L187.07 1343.59 L188.35 1341.49 L189.64 1339.52 L190.92 1337.65 L192.21 1335.88 L193.49 1334.19 L194.78 1332.59 L196.06 1331.05 L197.35 1329.58 L198.63 1328.17 L199.92 1326.82 L201.21 1325.51 L202.49 1324.26 L203.78 1323.04 L205.06 1321.87 L206.35 1320.74 L207.63 1319.64 L208.92 1318.58 L210.2 1317.55 L211.49 1316.55 L212.77 1315.58 L214.06 1314.63 L215.35 1313.71 L216.63 1312.81 L217.92 1311.94 L219.2 1311.08 L220.49 1310.25 L221.77 1309.44 L223.06 1308.65 L224.34 1307.87 L225.63 1307.11 L226.91 1306.37 L228.2 1305.64 L229.48 1304.93 L230.77 1304.23 L233.98 1302.54 L239.79 1299.69 L245.6 1297.06 L251.41 1294.61 L257.22 1292.32 L263.03 1290.18 L268.85 1288.16 L274.66 1286.25 L280.47 1284.45 L286.28 1282.73 L292.09 1281.09 L297.9 1279.53 L303.71 1278.04 L309.52 1276.6 L315.33 1275.23 L321.14 1273.9 L326.95 1272.63 L332.76 1271.4 L338.57 1270.22 L344.38 1269.07 L350.19 1267.96 L356 1266.88 L361.81 1265.84 L367.62 1264.83 L373.43 1263.84 L379.24 1262.89 L385.05 1261.96 L390.86 1261.05 L396.67 1260.17 L402.48 1259.31 L408.29 1258.47 L414.1 1257.65 L419.91 1256.84 L425.72 1256.06 L431.53 1255.3 L437.34 1254.55 L443.15 1253.81 L448.96 1253.1 L454.77 1252.39 L460.58 1251.7 L466.39 1251.03 L472.2 1250.36 L478.01 1249.71 L483.83 1249.08 L489.64 1248.45 L495.45 1247.83 L501.26 1247.23 L507.07 1246.63 L512.88 1246.05 L518.69 1245.48 L524.5 1244.91 L530.31 1244.35 L536.12 1243.81 L541.93 1243.27 L547.74 1242.74 L553.55 1242.22 L559.36 1241.7 L565.17 1241.19 L570.98 1240.69 L576.79 1240.2 L582.6 1239.72 L588.41 1239.24 L594.22 1238.76 L600.03 1238.3 L605.84 1237.84 L611.65 1237.39 L617.46 1236.94 L623.27 1236.5 L629.08 1236.06 L634.89 1235.63 L640.7 1235.2 L646.51 1234.78 L652.32 1234.37 L658.13 1233.95 L663.94 1233.55 L669.75 1233.15 L675.56 1232.75 L681.37 1232.36 L687.18 1231.97 L692.99 1231.59 L698.8 1231.21 L704.62 1230.83 L710.43 1230.46 L716.24 1230.1 L722.05 1229.73 L727.86 1229.37 L733.67 1229.02 L739.48 1228.67 L745.29 1228.32 L751.1 1227.97 L756.91 1227.63 L762.72 1227.29 L768.53 1226.96 L774.34 1226.63 L780.15 1226.3 L785.96 1225.97 L791.77 1225.65 L797.58 1225.33 L803.39 1225.01 L809.2 1224.7" fill="none" stroke="#5BA65B" stroke-width="3.6" stroke-dasharray="8.6 4.9" stroke-linejoin="round"/>
<path d="M179.35 1298.74 L180.64 1293.46 L181.92 1288.57 L183.21 1284.02 L184.5 1279.76 L185.78 1275.76 L187.07 1271.99 L188.35 1268.41 L189.64 1265.02 L190.92 1261.79 L192.21 1258.71 L193.49 1255.76 L194.78 1252.93 L196.06 1250.22 L197.35 1247.61 L198.63 1245.1 L199.92 1242.68 L201.21 1240.34 L202.49 1238.08 L203.78 1235.89 L205.06 1233.77 L206.35 1231.71 L207.63 1229.71 L208.92 1227.77 L210.2 1225.88 L211.49 1224.05 L212.77 1222.26 L214.06 1220.52 L215.35 1218.82 L216.63 1217.16 L217.92 1215.54 L219.2 1213.95 L220.49 1212.41 L221.77 1210.9 L223.06 1209.42 L224.34 1207.97 L225.63 1206.55 L226.91 1205.16 L228.2 1203.79 L229.48 1202.46 L230.77 1201.15 L233.98 1197.98 L239.79 1192.59 L245.6 1187.59 L251.41 1182.93 L257.22 1178.57 L263.03 1174.46 L268.85 1170.59 L274.66 1166.92 L280.47 1163.44 L286.28 1160.13 L292.09 1156.96 L297.9 1153.94 L303.71 1151.04 L309.52 1148.26 L315.33 1145.59 L321.14 1143.02 L326.95 1140.54 L332.76 1138.14 L338.57 1135.83 L344.38 1133.59 L350.19 1131.42 L356 1129.32 L361.81 1127.28 L367.62 1125.29 L373.43 1123.37 L379.24 1121.49 L385.05 1119.67 L390.86 1117.89 L396.67 1116.16 L402.48 1114.47 L408.29 1112.82 L414.1 1111.2 L419.91 1109.63 L425.72 1108.09 L431.53 1106.58 L437.34 1105.11 L443.15 1103.67 L448.96 1102.25 L454.77 1100.87 L460.58 1099.51 L466.39 1098.18 L472.2 1096.87 L478.01 1095.59 L483.83 1094.33 L489.64 1093.09 L495.45 1091.88 L501.26 1090.68 L507.07 1089.51 L512.88 1088.35 L518.69 1087.22 L524.5 1086.1 L530.31 1085 L536.12 1083.92 L541.93 1082.86 L547.74 1081.81 L553.55 1080.78 L559.36 1079.76 L565.17 1078.75 L570.98 1077.77 L576.79 1076.79 L582.6 1075.83 L588.41 1074.88 L594.22 1073.95 L600.03 1073.02 L605.84 1072.11 L611.65 1071.21 L617.46 1070.33 L623.27 1069.45 L629.08 1068.59 L634.89 1067.73 L640.7 1066.89 L646.51 1066.05 L652.32 1065.23 L658.13 1064.42 L663.94 1063.61 L669.75 1062.82 L675.56 1062.03 L681.37 1061.25 L687.18 1060.48 L692.99 1059.72 L698.8 1058.97 L704.62 1058.23 L710.43 1057.49 L716.24 1056.76 L722.05 1056.04 L727.86 1055.33 L733.67 1054.62 L739.48 1053.93 L745.29 1053.23 L751.1 1052.55 L756.91 1051.87 L762.72 1051.2 L768.53 1050.53 L774.34 1049.88 L780.15 1049.22 L785.96 1048.58 L791.77 1047.94 L797.58 1047.3 L803.39 1046.67 L809.2 1046.05" fill="none" stroke="#4682B1" stroke-width="3.6" stroke-linejoin="round"/>
<path d="M179.35 1287.02 L180.64 1283.73 L181.92 1280.72 L183.21 1277.96 L184.5 1275.4 L185.78 1273.01 L187.07 1270.79 L188.35 1268.69 L189.64 1266.72 L190.92 1264.85 L192.21 1263.08 L193.49 1261.39 L194.78 1259.79 L196.06 1258.25 L197.35 1256.78 L198.63 1255.37 L199.92 1254.02 L201.21 1252.71 L202.49 1251.46 L203.78 1250.24 L205.06 1249.07 L206.35 1247.94 L207.63 1246.84 L208.92 1245.78 L210.2 1244.75 L211.49 1243.75 L212.77 1242.78 L214.06 1241.83 L215.35 1240.91 L216.63 1240.01 L217.92 1239.14 L219.2 1238.28 L220.49 1237.45 L221.77 1236.64 L223.06 1235.85 L224.34 1235.07 L225.63 1234.31 L226.91 1233.57 L228.2 1232.84 L229.48 1232.13 L230.77 1231.43 L233.98 1229.74 L239.79 1226.89 L245.6 1224.26 L251.41 1221.81 L257.22 1219.52 L263.03 1217.38 L268.85 1215.36 L274.66 1213.45 L280.47 1211.65 L286.28 1209.93 L292.09 1208.29 L297.9 1206.73 L303.71 1205.24 L309.52 1203.8 L315.33 1202.43 L321.14 1201.1 L326.95 1199.83 L332.76 1198.6 L338.57 1197.42 L344.38 1196.27 L350.19 1195.16 L356 1194.08 L361.81 1193.04 L367.62 1192.03 L373.43 1191.04 L379.24 1190.09 L385.05 1189.16 L390.86 1188.25 L396.67 1187.37 L402.48 1186.51 L408.29 1185.67 L414.1 1184.85 L419.91 1184.04 L425.72 1183.26 L431.53 1182.5 L437.34 1181.75 L443.15 1181.01 L448.96 1180.3 L454.77 1179.59 L460.58 1178.9 L466.39 1178.23 L472.2 1177.56 L478.01 1176.91 L483.83 1176.28 L489.64 1175.65 L495.45 1175.03 L501.26 1174.43 L507.07 1173.83 L512.88 1173.25 L518.69 1172.68 L524.5 1172.11 L530.31 1171.55 L536.12 1171.01 L541.93 1170.47 L547.74 1169.94 L553.55 1169.42 L559.36 1168.9 L565.17 1168.39 L570.98 1167.89 L576.79 1167.4 L582.6 1166.92 L588.41 1166.44 L594.22 1165.96 L600.03 1165.5 L605.84 1165.04 L611.65 1164.59 L617.46 1164.14 L623.27 1163.7 L629.08 1163.26 L634.89 1162.83 L640.7 1162.4 L646.51 1161.98 L652.32 1161.57 L658.13 1161.15 L663.94 1160.75 L669.75 1160.35 L675.56 1159.95 L681.37 1159.56 L687.18 1159.17 L692.99 1158.79 L698.8 1158.41 L704.62 1158.03 L710.43 1157.66 L716.24 1157.3 L722.05 1156.93 L727.86 1156.57 L733.67 1156.22 L739.48 1155.87 L745.29 1155.52 L751.1 1155.17 L756.91 1154.83 L762.72 1154.49 L768.53 1154.16 L774.34 1153.83 L780.15 1153.5 L785.96 1153.17 L791.77 1152.85 L797.58 1152.53 L803.39 1152.21 L809.2 1151.9" fill="none" stroke="#5BA65B" stroke-width="3.6" stroke-linejoin="round"/>
<rect x="166.3" y="971" width="656.2" height="669.5" fill="none" stroke="#000" stroke-width="1.6"/>
<line x1="166.3" y1="1009.1" x2="182.3" y2="1009.1" stroke="#000" stroke-width="1.6"/>
<text transform="matrix(1 0 0 1.05 120.2 1021.9)" font-size="41" text-anchor="end">10</text>
<text transform="matrix(1 0 0 1.05 122.2 1004.9)" font-size="30">21</text>
<line x1="166.3" y1="1088.63" x2="182.3" y2="1088.63" stroke="#000" stroke-width="1.6"/>
<text transform="matrix(1 0 0 1.05 120.2 1101.43)" font-size="41" text-anchor="end">10</text>
<text transform="matrix(1 0 0 1.05 122.2 1084.43)" font-size="30">20</text>
<line x1="166.3" y1="1168.16" x2="182.3" y2="1168.16" stroke="#000" stroke-width="1.6"/>
<text transform="matrix(1 0 0 1.05 120.2 1180.96)" font-size="41" text-anchor="end">10</text>
<text transform="matrix(1 0 0 1.05 122.2 1163.96)" font-size="30">19</text>
<line x1="166.3" y1="1247.69" x2="182.3" y2="1247.69" stroke="#000" stroke-width="1.6"/>
<text transform="matrix(1 0 0 1.05 120.2 1260.49)" font-size="41" text-anchor="end">10</text>
<text transform="matrix(1 0 0 1.05 122.2 1243.49)" font-size="30">18</text>
<line x1="166.3" y1="1327.22" x2="182.3" y2="1327.22" stroke="#000" stroke-width="1.6"/>
<text transform="matrix(1 0 0 1.05 120.2 1340.02)" font-size="41" text-anchor="end">10</text>
<text transform="matrix(1 0 0 1.05 122.2 1323.02)" font-size="30">17</text>
<line x1="166.3" y1="1406.75" x2="182.3" y2="1406.75" stroke="#000" stroke-width="1.6"/>
<text transform="matrix(1 0 0 1.05 120.2 1419.55)" font-size="41" text-anchor="end">10</text>
<text transform="matrix(1 0 0 1.05 122.2 1402.55)" font-size="30">16</text>
<line x1="166.3" y1="1486.28" x2="182.3" y2="1486.28" stroke="#000" stroke-width="1.6"/>
<text transform="matrix(1 0 0 1.05 120.2 1499.08)" font-size="41" text-anchor="end">10</text>
<text transform="matrix(1 0 0 1.05 122.2 1482.08)" font-size="30">15</text>
<line x1="166.3" y1="1565.81" x2="182.3" y2="1565.81" stroke="#000" stroke-width="1.6"/>
<text transform="matrix(1 0 0 1.05 120.2 1578.61)" font-size="41" text-anchor="end">10</text>
<text transform="matrix(1 0 0 1.05 122.2 1561.61)" font-size="30">14</text>
<line x1="230.77" y1="1640.5" x2="230.77" y2="1632" stroke="#000" stroke-width="1.6"/>
<line x1="359.31" y1="1640.5" x2="359.31" y2="1632" stroke="#000" stroke-width="1.6"/>
<line x1="487.85" y1="1640.5" x2="487.85" y2="1632" stroke="#000" stroke-width="1.6"/>
<line x1="616.39" y1="1640.5" x2="616.39" y2="1632" stroke="#000" stroke-width="1.6"/>
<line x1="744.93" y1="1640.5" x2="744.93" y2="1632" stroke="#000" stroke-width="1.6"/>
<text transform="matrix(1 0 0 1.05 166.3 1685)" font-size="41" text-anchor="middle">0</text>
<line x1="295.04" y1="1640.5" x2="295.04" y2="1623.5" stroke="#000" stroke-width="1.6"/>
<text transform="matrix(1 0 0 1.05 295.04 1685)" font-size="41" text-anchor="middle">20</text>
<line x1="423.58" y1="1640.5" x2="423.58" y2="1623.5" stroke="#000" stroke-width="1.6"/>
<text transform="matrix(1 0 0 1.05 423.58 1685)" font-size="41" text-anchor="middle">40</text>
<line x1="552.12" y1="1640.5" x2="552.12" y2="1623.5" stroke="#000" stroke-width="1.6"/>
<text transform="matrix(1 0 0 1.05 552.12 1685)" font-size="41" text-anchor="middle">60</text>
<line x1="680.66" y1="1640.5" x2="680.66" y2="1623.5" stroke="#000" stroke-width="1.6"/>
<text transform="matrix(1 0 0 1.05 680.66 1685)" font-size="41" text-anchor="middle">80</text>
<line x1="809.2" y1="1640.5" x2="809.2" y2="1623.5" stroke="#000" stroke-width="1.6"/>
<text transform="matrix(1 0 0 1.05 809.2 1685)" font-size="41" text-anchor="middle">100</text>
<line x1="809.2" y1="1046.05" x2="809.2" y2="1151.9" stroke="#000" stroke-width="1.3"/>
<path d="M804.8 1055.55 L809.2 1046.05 L813.6 1055.55" fill="none" stroke="#000" stroke-width="1.7" stroke-linejoin="miter"/>
<path d="M804.8 1142.4 L809.2 1151.9 L813.6 1142.4" fill="none" stroke="#000" stroke-width="1.7" stroke-linejoin="miter"/>
<line x1="809.2" y1="1224.7" x2="809.2" y2="1304.81" stroke="#000" stroke-width="1.3"/>
<path d="M804.8 1234.2 L809.2 1224.7 L813.6 1234.2" fill="none" stroke="#000" stroke-width="1.7" stroke-linejoin="miter"/>
<path d="M804.8 1295.31 L809.2 1304.81 L813.6 1295.31" fill="none" stroke="#000" stroke-width="1.7" stroke-linejoin="miter"/>
<text transform="matrix(1 0 0 1.05 739 1106.5)" font-size="26.5">~22X</text>
<text transform="matrix(1 0 0 1.05 740 1271.5)" font-size="26.5">~10X</text>
<rect x="550.7" y="1453" width="264.6" height="146.2" fill="none" stroke="#000" stroke-width="1.6"/>
<path d="M562 1476.5 L594.3 1476.5" fill="none" stroke="#4682B1" stroke-width="3.6" stroke-linejoin="round"/>
<text transform="matrix(1 0 0 1.05 604 1487.7)" font-size="34">AT</text>
<path d="M562 1509.5 L594.3 1509.5" fill="none" stroke="#5BA65B" stroke-width="3.6" stroke-linejoin="round"/>
<text transform="matrix(1 0 0 1.05 604 1520.7)" font-size="34">DAT w/ IS</text>
<path d="M562 1542.5 L594.3 1542.5" fill="none" stroke="#4682B1" stroke-width="3.6" stroke-dasharray="6.8 6.1" stroke-linejoin="round"/>
<text transform="matrix(1 0 0 1.05 604 1553.7)" font-size="34">AT (A)</text>
<path d="M562 1575.2 L594.3 1575.2" fill="none" stroke="#5BA65B" stroke-width="3.6" stroke-dasharray="6.8 6.1" stroke-linejoin="round"/>
<text transform="matrix(1 0 0 1.05 604 1586.4)" font-size="34">DAT w/ IS (A)</text>
<text transform="matrix(1 0 0 1.05 140.9 946)" font-size="41">Computational Complexity for DPNN-C</text>
<text transform="matrix(1 0 0 1.05 279 1725.5)" font-size="41">Number of PNN Blocks</text>
<defs><clipPath id="clipB2"><rect x="1074.3" y="971" width="655.5" height="669.5"/></clipPath><clipPath id="clipIn"><rect x="1411.6" y="1249.6" width="219.4000000000001" height="230.9000000000001"/></clipPath></defs>
<path d="M1076.5 1561 L1076.5 1560.26 L1076.5 1556.42 L1076.5 1552.59 L1076.5 1548.75 L1076.5 1544.92 L1076.5 1541.08 L1076.5 1537.25 L1076.5 1533.41 L1076.5 1529.58 L1076.5 1525.74 L1076.5 1521.91 L1076.5 1518.07 L1076.5 1514.24 L1076.5 1510.4 L1076.5 1506.57 L1076.5 1502.73 L1076.5 1498.9 L1076.5 1495.06 L1076.5 1491.23 L1076.5 1487.39 L1076.5 1483.56 L1076.5 1479.72 L1076.5 1475.89 L1076.5 1472.05 L1076.63 1468.22 L1076.85 1464.38 L1077.08 1460.55 L1077.33 1456.71 L1077.61 1452.88 L1077.91 1449.04 L1078.24 1445.21 L1078.6 1441.37 L1079 1437.54 L1079.43 1433.7 L1079.89 1429.87 L1080.41 1426.03 L1080.96 1422.2 L1081.57 1418.36 L1082.24 1414.29 L1082.96 1409.82 L1083.75 1405.53 L1084.62 1401.37 L1085.56 1397.33 L1086.59 1393.38 L1087.71 1389.49 L1088.94 1385.62 L1090.27 1381.76 L1090.91 1380.02 L1094.83 1370.42 L1098.74 1362.03 L1102.66 1354.37 L1106.57 1347.2 L1110.49 1340.38 L1114.4 1333.84 L1118.31 1327.51 L1122.23 1321.36 L1126.14 1315.37 L1130.06 1309.51 L1133.97 1303.78 L1137.89 1298.17 L1141.8 1292.66 L1145.72 1287.27 L1149.63 1282.01 L1153.54 1276.88 L1157.46 1271.89 L1161.37 1267.04 L1165.29 1262.32 L1169.2 1257.74 L1173.12 1253.28 L1177.03 1248.96 L1180.94 1244.76 L1184.86 1240.68 L1188.77 1236.72 L1192.69 1232.87 L1196.6 1229.12 L1200.52 1225.49 L1204.43 1221.95 L1208.35 1218.51 L1212.26 1215.17 L1216.17 1211.92 L1220.09 1208.75 L1224 1205.67 L1227.92 1202.67 L1231.83 1199.75 L1235.75 1196.9 L1239.66 1194.13 L1243.57 1191.42 L1247.49 1188.78 L1251.4 1186.21 L1255.32 1183.69 L1259.23 1181.23 L1263.15 1178.82 L1267.06 1176.47 L1270.98 1174.16 L1274.89 1171.9 L1278.8 1169.68 L1282.72 1167.51 L1286.63 1165.38 L1290.55 1163.29 L1294.46 1161.24 L1298.38 1159.22 L1302.29 1157.24 L1306.2 1155.3 L1310.12 1153.38 L1314.03 1151.5 L1317.95 1149.65 L1321.86 1147.83 L1325.78 1146.03 L1329.69 1144.26 L1333.61 1142.52 L1337.52 1140.81 L1341.43 1139.12 L1345.35 1137.46 L1349.26 1135.81 L1353.18 1134.19 L1357.09 1132.6 L1361.01 1131.02 L1364.92 1129.46 L1368.83 1127.93 L1372.75 1126.41 L1376.66 1124.92 L1380.58 1123.44 L1384.49 1121.98 L1388.41 1120.53 L1392.32 1119.11 L1396.24 1117.7 L1400.15 1116.31 L1404.06 1114.93 L1407.98 1113.57 L1411.89 1112.22 L1415.81 1110.89 L1419.72 1109.57 L1423.64 1108.26 L1427.55 1106.97 L1431.46 1105.7 L1435.38 1104.43 L1439.29 1103.18 L1443.21 1101.94 L1447.12 1100.71 L1451.04 1099.5 L1454.95 1098.29 L1458.87 1097.1 L1462.78 1095.92 L1466.69 1094.75 L1470.61 1093.59 L1474.52 1092.44 L1478.44 1091.3 L1482.35 1090.17 L1486.27 1089.05 L1490.18 1087.94 L1494.09 1086.84 L1498.01 1085.75 L1501.92 1084.66 L1505.84 1083.59 L1509.75 1082.53 L1513.67 1081.47 L1517.58 1080.42 L1521.5 1079.38 L1525.41 1078.35 L1529.32 1077.33 L1533.24 1076.31 L1537.15 1075.3 L1541.07 1074.3 L1544.98 1073.31 L1548.9 1072.32 L1552.81 1071.35 L1556.72 1070.37 L1560.64 1069.41 L1564.55 1068.45 L1568.47 1067.5 L1572.38 1066.56 L1576.3 1065.62 L1580.21 1064.69 L1584.13 1063.76 L1588.04 1062.84 L1591.95 1061.93 L1595.87 1061.02 L1599.78 1060.12 L1603.7 1059.23 L1607.61 1058.34 L1611.53 1057.45 L1615.44 1056.57 L1619.35 1055.7 L1623.27 1054.83 L1627.18 1053.97 L1631.1 1053.11 L1635.01 1052.26 L1638.93 1051.42 L1642.84 1050.57 L1646.76 1049.74 L1650.67 1048.91 L1654.58 1048.08 L1658.5 1047.26 L1662.41 1046.44 L1666.33 1045.63 L1670.24 1044.82 L1674.16 1044.01 L1678.07 1043.21 L1681.98 1042.42 L1685.9 1041.63 L1689.81 1040.84 L1693.73 1040.06 L1697.64 1039.28 L1701.56 1038.51 L1705.47 1037.74 L1709.39 1036.97 L1713.3 1038.9" fill="none" stroke="#4682B1" stroke-width="3.6" stroke-linejoin="round"/>
<path d="M1076.5 1561 L1076.5 1558.77 L1076.5 1555.37 L1076.5 1551.98 L1076.5 1548.58 L1076.5 1545.19 L1076.5 1541.79 L1076.5 1538.4 L1076.5 1535 L1076.5 1531.6 L1076.5 1528.21 L1076.5 1524.81 L1076.5 1521.42 L1076.5 1518.02 L1076.5 1514.62 L1076.5 1511.23 L1076.5 1507.83 L1076.5 1504.43 L1076.5 1501.03 L1076.5 1497.63 L1076.5 1494.24 L1076.5 1490.84 L1076.5 1487.44 L1076.5 1484.04 L1076.5 1480.64 L1076.5 1477.23 L1076.5 1473.83 L1076.5 1470.43 L1076.5 1467.02 L1076.5 1463.62 L1076.5 1460.21 L1076.5 1456.81 L1076.5 1453.4 L1076.5 1449.99 L1076.5 1446.58 L1076.5 1443.17 L1076.5 1439.75 L1076.5 1436.34 L1076.5 1432.92 L1076.5 1429.5 L1076.5 1426.07 L1076.5 1422.65 L1076.5 1419.22 L1076.5 1415.79 L1076.63 1412.36 L1076.85 1408.92 L1077.08 1405.48 L1077.33 1402.03 L1077.61 1398.58 L1077.91 1395.12 L1078.24 1391.66 L1078.6 1388.19 L1079 1384.72 L1079.43 1381.23 L1079.89 1377.74 L1080.41 1374.25 L1080.96 1370.74 L1081.57 1367.22 L1082.24 1363.69 L1082.96 1360.15 L1083.75 1356.6 L1084.62 1353.03 L1085.56 1349.45 L1086.59 1345.85 L1087.71 1342.24 L1088.94 1338.6 L1090.27 1334.95 L1090.91 1333.3 L1094.83 1324.34 L1098.74 1316.83 L1102.66 1310.35 L1106.57 1304.62 L1110.49 1299.48 L1114.4 1294.81 L1118.31 1290.52 L1122.23 1286.55 L1126.14 1282.86 L1130.06 1279.39 L1133.97 1276.13 L1137.89 1273.05 L1141.8 1270.12 L1145.72 1267.33 L1149.63 1264.67 L1153.54 1262.12 L1157.46 1259.68 L1161.37 1257.33 L1165.29 1255.07 L1169.2 1252.88 L1173.12 1250.77 L1177.03 1248.73 L1180.94 1246.75 L1184.86 1244.84 L1188.77 1242.97 L1192.69 1241.16 L1196.6 1239.4 L1200.52 1237.69 L1204.43 1236.01 L1208.35 1234.38 L1212.26 1232.79 L1216.17 1231.24 L1220.09 1229.72 L1224 1228.23 L1227.92 1226.78 L1231.83 1225.35 L1235.75 1223.96 L1239.66 1222.59 L1243.57 1221.25 L1247.49 1219.93 L1251.4 1218.64 L1255.32 1217.38 L1259.23 1216.13 L1263.15 1214.91 L1267.06 1213.71 L1270.98 1212.53 L1274.89 1211.36 L1278.8 1210.22 L1282.72 1209.1 L1286.63 1207.99 L1290.55 1206.9 L1294.46 1205.82 L1298.38 1204.77 L1302.29 1203.72 L1306.2 1202.7 L1310.12 1201.68 L1314.03 1200.68 L1317.95 1199.7 L1321.86 1198.73 L1325.78 1197.77 L1329.69 1196.82 L1333.61 1195.89 L1337.52 1194.96 L1341.43 1194.05 L1345.35 1193.15 L1349.26 1192.26 L1353.18 1191.38 L1357.09 1190.52 L1361.01 1189.66 L1364.92 1188.81 L1368.83 1187.97 L1372.75 1187.14 L1376.66 1186.33 L1380.58 1185.52 L1384.49 1184.71 L1388.41 1183.92 L1392.32 1183.14 L1396.24 1182.36 L1400.15 1181.59 L1404.06 1180.83 L1407.98 1180.08 L1411.89 1179.33 L1415.81 1178.6 L1419.72 1177.87 L1423.64 1177.14 L1427.55 1176.43 L1431.46 1175.72 L1435.38 1175.01 L1439.29 1174.32 L1443.21 1173.63 L1447.12 1172.94 L1451.04 1172.27 L1454.95 1171.6 L1458.87 1170.93 L1462.78 1170.27 L1466.69 1169.62 L1470.61 1168.97 L1474.52 1168.33 L1478.44 1167.69 L1482.35 1167.06 L1486.27 1166.43 L1490.18 1165.81 L1494.09 1165.2 L1498.01 1164.58 L1501.92 1163.98 L1505.84 1163.38 L1509.75 1162.78 L1513.67 1162.19 L1517.58 1161.6 L1521.5 1161.02 L1525.41 1160.44 L1529.32 1159.87 L1533.24 1159.3 L1537.15 1158.73 L1541.07 1158.17 L1544.98 1157.61 L1548.9 1157.06 L1552.81 1156.51 L1556.72 1155.97 L1560.64 1155.43 L1564.55 1154.89 L1568.47 1154.36 L1572.38 1153.83 L1576.3 1153.3 L1580.21 1152.78 L1584.13 1152.26 L1588.04 1151.74 L1591.95 1151.23 L1595.87 1150.72 L1599.78 1150.22 L1603.7 1149.72 L1607.61 1149.22 L1611.53 1148.72 L1615.44 1148.23 L1619.35 1147.74 L1623.27 1147.26 L1627.18 1146.78 L1631.1 1146.3 L1635.01 1145.82 L1638.93 1145.35 L1642.84 1144.88 L1646.76 1144.41 L1650.67 1143.94 L1654.58 1143.48 L1658.5 1143.02 L1662.41 1142.57 L1666.33 1142.11 L1670.24 1141.66 L1674.16 1141.21 L1678.07 1140.77 L1681.98 1140.32 L1685.9 1139.88 L1689.81 1139.45 L1693.73 1139.01 L1697.64 1138.58 L1701.56 1138.15 L1705.47 1137.72 L1709.39 1137.29 L1713.3 1136.87" fill="none" stroke="#5BA65B" stroke-width="3.6" stroke-linejoin="round"/>
<path d="M1076.5 1561 L1076.5 1558.85 L1076.5 1555.46 L1076.5 1552.06 L1076.5 1548.67 L1076.5 1545.27 L1076.5 1541.87 L1076.5 1538.48 L1076.5 1535.08 L1076.5 1531.69 L1076.5 1528.29 L1076.5 1524.89 L1076.5 1521.5 L1076.5 1518.1 L1076.5 1514.7 L1076.5 1511.3 L1076.5 1507.9 L1076.5 1504.5 L1076.5 1501.1 L1076.5 1497.7 L1076.5 1494.3 L1076.5 1490.9 L1076.5 1487.5 L1076.5 1484.1 L1076.5 1480.7 L1076.5 1477.29 L1076.5 1473.89 L1076.5 1470.48 L1076.5 1467.07 L1076.5 1463.66 L1076.5 1460.25 L1076.5 1456.84 L1076.5 1453.43 L1076.5 1450.02 L1076.5 1446.6 L1076.5 1443.18 L1076.5 1439.76 L1076.5 1436.34 L1076.5 1432.91 L1076.5 1429.48 L1076.63 1426.05 L1076.85 1422.61 L1077.08 1419.18 L1077.33 1415.73 L1077.61 1412.28 L1077.91 1408.83 L1078.24 1405.37 L1078.6 1401.91 L1079 1398.44 L1079.43 1394.96 L1079.89 1391.48 L1080.41 1387.99 L1080.96 1384.49 L1081.57 1380.98 L1082.24 1377.46 L1082.96 1373.93 L1083.75 1370.38 L1084.62 1366.83 L1085.56 1363.26 L1086.59 1359.67 L1087.71 1356.07 L1088.94 1352.45 L1090.27 1348.81 L1090.91 1347.17 L1094.83 1338.25 L1098.74 1330.78 L1102.66 1324.34 L1106.57 1318.65 L1110.49 1313.54 L1114.4 1308.91 L1118.31 1304.66 L1122.23 1300.72 L1126.14 1297.06 L1130.06 1293.63 L1133.97 1290.39 L1137.89 1287.34 L1141.8 1284.44 L1145.72 1281.68 L1149.63 1279.05 L1153.54 1276.53 L1157.46 1274.11 L1161.37 1271.78 L1165.29 1269.54 L1169.2 1267.38 L1173.12 1265.29 L1177.03 1263.28 L1180.94 1261.32 L1184.86 1259.42 L1188.77 1257.58 L1192.69 1255.79 L1196.6 1254.05 L1200.52 1252.35 L1204.43 1250.7 L1208.35 1249.08 L1212.26 1247.51 L1216.17 1245.97 L1220.09 1244.47 L1224 1243 L1227.92 1241.56 L1231.83 1240.15 L1235.75 1238.77 L1239.66 1237.42 L1243.57 1236.09 L1247.49 1234.79 L1251.4 1233.52 L1255.32 1232.26 L1259.23 1231.03 L1263.15 1229.82 L1267.06 1228.63 L1270.98 1227.47 L1274.89 1226.32 L1278.8 1225.18 L1282.72 1224.07 L1286.63 1222.98 L1290.55 1221.9 L1294.46 1220.83 L1298.38 1219.79 L1302.29 1218.76 L1306.2 1217.74 L1310.12 1216.74 L1314.03 1215.75 L1317.95 1214.77 L1321.86 1213.81 L1325.78 1212.86 L1329.69 1211.92 L1333.61 1211 L1337.52 1210.08 L1341.43 1209.18 L1345.35 1208.29 L1349.26 1207.41 L1353.18 1206.54 L1357.09 1205.68 L1361.01 1204.83 L1364.92 1203.99 L1368.83 1203.16 L1372.75 1202.34 L1376.66 1201.53 L1380.58 1200.73 L1384.49 1199.93 L1388.41 1199.15 L1392.32 1198.37 L1396.24 1197.6 L1400.15 1196.84 L1404.06 1196.09 L1407.98 1195.34 L1411.89 1194.6 L1415.81 1193.87 L1419.72 1193.15 L1423.64 1192.43 L1427.55 1191.72 L1431.46 1191.02 L1435.38 1190.32 L1439.29 1189.63 L1443.21 1188.95 L1447.12 1188.27 L1451.04 1187.6 L1454.95 1186.93 L1458.87 1186.27 L1462.78 1185.62 L1466.69 1184.97 L1470.61 1184.33 L1474.52 1183.69 L1478.44 1183.06 L1482.35 1182.43 L1486.27 1181.81 L1490.18 1181.2 L1494.09 1180.59 L1498.01 1179.98 L1501.92 1179.38 L1505.84 1178.78 L1509.75 1178.19 L1513.67 1177.6 L1517.58 1177.02 L1521.5 1176.44 L1525.41 1175.87 L1529.32 1175.3 L1533.24 1174.73 L1537.15 1174.17 L1541.07 1173.62 L1544.98 1173.06 L1548.9 1172.52 L1552.81 1171.97 L1556.72 1171.43 L1560.64 1170.89 L1564.55 1170.36 L1568.47 1169.83 L1572.38 1169.31 L1576.3 1168.78 L1580.21 1168.27 L1584.13 1167.75 L1588.04 1167.24 L1591.95 1166.73 L1595.87 1166.23 L1599.78 1165.72 L1603.7 1165.23 L1607.61 1164.73 L1611.53 1164.24 L1615.44 1163.75 L1619.35 1163.27 L1623.27 1162.78 L1627.18 1162.31 L1631.1 1161.83 L1635.01 1161.36 L1638.93 1160.89 L1642.84 1160.42 L1646.76 1159.95 L1650.67 1159.49 L1654.58 1159.03 L1658.5 1158.58 L1662.41 1158.12 L1666.33 1157.67 L1670.24 1157.23 L1674.16 1156.78 L1678.07 1156.34 L1681.98 1155.9 L1685.9 1155.46 L1689.81 1155.02 L1693.73 1154.59 L1697.64 1154.16 L1701.56 1153.73 L1705.47 1153.31 L1709.39 1152.89 L1713.3 1152.46" fill="none" stroke="#9B69A8" stroke-width="3.6" stroke-linejoin="round"/>
<rect x="1074.3" y="971" width="655.5" height="669.5" fill="none" stroke="#000" stroke-width="1.6"/>
<text transform="matrix(1 0 0 1.05 1028.2 983.16)" font-size="41" text-anchor="end">10</text>
<text transform="matrix(1 0 0 1.05 1030.2 966.16)" font-size="30">16</text>
<line x1="1074.3" y1="1059.73" x2="1082.3" y2="1059.73" stroke="#000" stroke-width="1.6"/>
<line x1="1074.3" y1="1149.1" x2="1090.3" y2="1149.1" stroke="#000" stroke-width="1.6"/>
<text transform="matrix(1 0 0 1.05 1028.2 1161.9)" font-size="41" text-anchor="end">10</text>
<text transform="matrix(1 0 0 1.05 1030.2 1144.9)" font-size="30">14</text>
<line x1="1074.3" y1="1238.47" x2="1082.3" y2="1238.47" stroke="#000" stroke-width="1.6"/>
<line x1="1074.3" y1="1327.84" x2="1090.3" y2="1327.84" stroke="#000" stroke-width="1.6"/>
<text transform="matrix(1 0 0 1.05 1028.2 1340.64)" font-size="41" text-anchor="end">10</text>
<text transform="matrix(1 0 0 1.05 1030.2 1323.64)" font-size="30">12</text>
<line x1="1074.3" y1="1417.21" x2="1082.3" y2="1417.21" stroke="#000" stroke-width="1.6"/>
<line x1="1074.3" y1="1506.58" x2="1090.3" y2="1506.58" stroke="#000" stroke-width="1.6"/>
<text transform="matrix(1 0 0 1.05 1028.2 1519.38)" font-size="41" text-anchor="end">10</text>
<text transform="matrix(1 0 0 1.05 1030.2 1502.38)" font-size="30">10</text>
<line x1="1074.3" y1="1595.95" x2="1082.3" y2="1595.95" stroke="#000" stroke-width="1.6"/>
<text transform="matrix(1 0 0 1.05 1074.3 1685)" font-size="41" text-anchor="middle">0</text>
<line x1="1170.15" y1="1640.5" x2="1170.15" y2="1623.5" stroke="#000" stroke-width="1.6"/>
<text transform="matrix(1 0 0 1.05 1170.15 1685)" font-size="41" text-anchor="middle">3</text>
<line x1="1234.05" y1="1640.5" x2="1234.05" y2="1623.5" stroke="#000" stroke-width="1.6"/>
<text transform="matrix(1 0 0 1.05 1234.05 1685)" font-size="41" text-anchor="middle">5</text>
<line x1="1393.8" y1="1640.5" x2="1393.8" y2="1623.5" stroke="#000" stroke-width="1.6"/>
<text transform="matrix(1 0 0 1.05 1393.8 1685)" font-size="41" text-anchor="middle">10</text>
<line x1="1553.55" y1="1640.5" x2="1553.55" y2="1623.5" stroke="#000" stroke-width="1.6"/>
<text transform="matrix(1 0 0 1.05 1553.55 1685)" font-size="41" text-anchor="middle">15</text>
<line x1="1713.3" y1="1640.5" x2="1713.3" y2="1623.5" stroke="#000" stroke-width="1.6"/>
<text transform="matrix(1 0 0 1.05 1713.3 1685)" font-size="41" text-anchor="middle">20</text>
<line x1="1170.15" y1="1253.87" x2="1170.15" y2="1640.5" stroke="#000" stroke-width="1.3" stroke-dasharray="1.4 1.7"/>
<line x1="1713.3" y1="1038.9" x2="1713.3" y2="1136.87" stroke="#000" stroke-width="1.3"/>
<path d="M1708.9 1048.4 L1713.3 1038.9 L1717.7 1048.4" fill="none" stroke="#000" stroke-width="1.7" stroke-linejoin="miter"/>
<path d="M1708.9 1127.37 L1713.3 1136.87 L1717.7 1127.37" fill="none" stroke="#000" stroke-width="1.7" stroke-linejoin="miter"/>
<text transform="matrix(1 0 0 1.05 1646.5 1095.3)" font-size="26.5">~12X</text>
<rect x="1148.7" y="1243.3" width="37.4" height="42.1" fill="none" stroke="#000" stroke-width="1.6"/>
<line x1="1186.1" y1="1243.3" x2="1631" y2="1249.6" stroke="#000" stroke-width="1.5"/>
<line x1="1148.7" y1="1285.4" x2="1411.6" y2="1480.5" stroke="#000" stroke-width="1.5"/>
<rect x="1411.6" y="1249.6" width="219.4000000000001" height="230.9000000000001" fill="#fff"/>
<path d="M1406.6 1511.36 L1410.49 1506.14 L1414.38 1500.94 L1418.26 1495.78 L1422.15 1490.64 L1426.04 1485.54 L1429.93 1480.46 L1433.82 1475.42 L1437.71 1470.41 L1441.59 1465.42 L1445.48 1460.47 L1449.37 1455.55 L1453.26 1450.66 L1457.15 1445.8 L1461.03 1440.97 L1464.92 1436.17 L1468.81 1431.41 L1472.7 1426.67 L1476.59 1421.96 L1480.47 1417.28 L1484.36 1412.64 L1488.25 1408.02 L1492.14 1403.44 L1496.03 1398.88 L1499.92 1394.36 L1503.8 1389.87 L1507.69 1385.4 L1511.58 1380.97 L1515.47 1376.57 L1519.36 1372.2 L1523.24 1367.86 L1527.13 1363.55 L1531.02 1359.27 L1534.91 1355.02 L1538.8 1350.8 L1542.68 1346.62 L1546.57 1342.46 L1550.46 1338.33 L1554.35 1334.24 L1558.24 1330.17 L1562.13 1326.14 L1566.01 1322.13 L1569.9 1318.16 L1573.79 1314.22 L1577.68 1310.3 L1581.57 1306.42 L1585.45 1302.57 L1589.34 1298.75 L1593.23 1294.96 L1597.12 1291.2 L1601.01 1287.47 L1604.89 1283.77 L1608.78 1280.1 L1612.67 1276.47 L1616.56 1272.86 L1620.45 1269.28 L1624.34 1265.74 L1628.22 1262.22 L1632.11 1258.74 L1636 1255.28" fill="none" stroke="#4682B1" stroke-width="3.6" stroke-linejoin="round" clip-path="url(#clipIn)"/>
<path d="M1406.6 1400.16 L1410.49 1397.7 L1414.38 1395.25 L1418.26 1392.81 L1422.15 1390.39 L1426.04 1387.98 L1429.93 1385.58 L1433.82 1383.19 L1437.71 1380.82 L1441.59 1378.46 L1445.48 1376.11 L1449.37 1373.77 L1453.26 1371.45 L1457.15 1369.14 L1461.03 1366.84 L1464.92 1364.56 L1468.81 1362.28 L1472.7 1360.02 L1476.59 1357.78 L1480.47 1355.54 L1484.36 1353.32 L1488.25 1351.11 L1492.14 1348.91 L1496.03 1346.73 L1499.92 1344.56 L1503.8 1342.4 L1507.69 1340.25 L1511.58 1338.12 L1515.47 1336 L1519.36 1333.89 L1523.24 1331.8 L1527.13 1329.71 L1531.02 1327.64 L1534.91 1325.59 L1538.8 1323.54 L1542.68 1321.51 L1546.57 1319.49 L1550.46 1317.48 L1554.35 1315.49 L1558.24 1313.51 L1562.13 1311.54 L1566.01 1309.58 L1569.9 1307.64 L1573.79 1305.71 L1577.68 1303.79 L1581.57 1301.89 L1585.45 1299.99 L1589.34 1298.11 L1593.23 1296.25 L1597.12 1294.39 L1601.01 1292.55 L1604.89 1290.72 L1608.78 1288.9 L1612.67 1287.1 L1616.56 1285.31 L1620.45 1283.53 L1624.34 1281.76 L1628.22 1280.01 L1632.11 1278.27 L1636 1276.54" fill="none" stroke="#5BA65B" stroke-width="3.6" stroke-linejoin="round" clip-path="url(#clipIn)"/>
<path d="M1406.6 1475.27 L1410.49 1472.88 L1414.38 1470.5 L1418.26 1468.14 L1422.15 1465.78 L1426.04 1463.44 L1429.93 1461.11 L1433.82 1458.78 L1437.71 1456.47 L1441.59 1454.17 L1445.48 1451.88 L1449.37 1449.61 L1453.26 1447.34 L1457.15 1445.08 L1461.03 1442.84 L1464.92 1440.61 L1468.81 1438.38 L1472.7 1436.17 L1476.59 1433.97 L1480.47 1431.78 L1484.36 1429.6 L1488.25 1427.43 L1492.14 1425.28 L1496.03 1423.13 L1499.92 1421 L1503.8 1418.87 L1507.69 1416.76 L1511.58 1414.66 L1515.47 1412.57 L1519.36 1410.49 L1523.24 1408.42 L1527.13 1406.36 L1531.02 1404.31 L1534.91 1402.28 L1538.8 1400.25 L1542.68 1398.24 L1546.57 1396.24 L1550.46 1394.25 L1554.35 1392.26 L1558.24 1390.29 L1562.13 1388.34 L1566.01 1386.39 L1569.9 1384.45 L1573.79 1382.53 L1577.68 1380.61 L1581.57 1378.71 L1585.45 1376.82 L1589.34 1374.93 L1593.23 1373.06 L1597.12 1371.2 L1601.01 1369.35 L1604.89 1367.52 L1608.78 1365.69 L1612.67 1363.87 L1616.56 1362.07 L1620.45 1360.28 L1624.34 1358.49 L1628.22 1356.72 L1632.11 1354.96 L1636 1353.21" fill="none" stroke="#9B69A8" stroke-width="3.6" stroke-linejoin="round" clip-path="url(#clipIn)"/>
<line x1="1536.4" y1="1353.4" x2="1536.4" y2="1480.5" stroke="#000" stroke-width="1.3" stroke-dasharray="1.4 1.7"/>
<line x1="1536.4" y1="1324.8" x2="1536.4" y2="1353.4" stroke="#000" stroke-width="1.3"/>
<path d="M1532.9 1331.8 L1536.4 1324.8 L1539.9 1331.8" fill="none" stroke="#000" stroke-width="1.7" stroke-linejoin="miter"/>
<path d="M1532.9 1346.4 L1536.4 1353.4 L1539.9 1346.4" fill="none" stroke="#000" stroke-width="1.7" stroke-linejoin="miter"/>
<text transform="matrix(1 0 0 1.05 1461.8 1348.9)" font-size="26.5">~0.9X</text>
<rect x="1411.6" y="1249.6" width="219.4" height="230.9" fill="none" stroke="#000" stroke-width="1.6"/>
<rect x="1279.3" y="1505" width="441.2" height="114" fill="none" stroke="#000" stroke-width="1.6"/>
<path d="M1290.5 1529.8 L1322.5 1529.8" fill="none" stroke="#4682B1" stroke-width="3.6" stroke-linejoin="round"/>
<text transform="matrix(1 0 0 1.05 1333.2 1541)" font-size="34">AT</text>
<path d="M1290.5 1562 L1322.5 1562" fill="none" stroke="#5BA65B" stroke-width="3.6" stroke-linejoin="round"/>
<text transform="matrix(1 0 0 1.05 1333.2 1573.2)" font-size="34">DAT w/ IS (~10k Params)</text>
<path d="M1290.5 1594.3 L1322.5 1594.3" fill="none" stroke="#9B69A8" stroke-width="3.6" stroke-linejoin="round"/>
<text transform="matrix(1 0 0 1.05 1333.2 1605.5)" font-size="34">DAT w/ IS (~4k Params)</text>
<text transform="matrix(1 0 0 1.05 1067.9 946)" font-size="41">Computational Complexity for MPNN</text>
<text transform="matrix(1 0 0 1.05 1186.5 1725)" font-size="41">Number of PNN Blocks</text>
<text transform="translate(55.5 398.5) rotate(-90) scale(1 1.05)" font-size="41" text-anchor="middle">FLOPs (Log Scale)</text>
<text transform="translate(964.5 398.5) rotate(-90) scale(1 1.05)" font-size="41" text-anchor="middle">FLOPs (Log Scale)</text>
<text transform="translate(55 1305.5) rotate(-90) scale(1 1.05)" font-size="41" text-anchor="middle">FLOPs (Log Scale)</text>
<text transform="translate(964.5 1305.5) rotate(-90) scale(1 1.05)" font-size="41" text-anchor="middle">FLOPs (Log Scale)</text>
<text transform="matrix(1 0 0 1.05 0.3 31)" font-size="48" font-weight="bold">a</text>
<text transform="matrix(1 0 0 1.05 0.5 946.3)" font-size="52" font-weight="bold">b</text>
</svg></body></html>
